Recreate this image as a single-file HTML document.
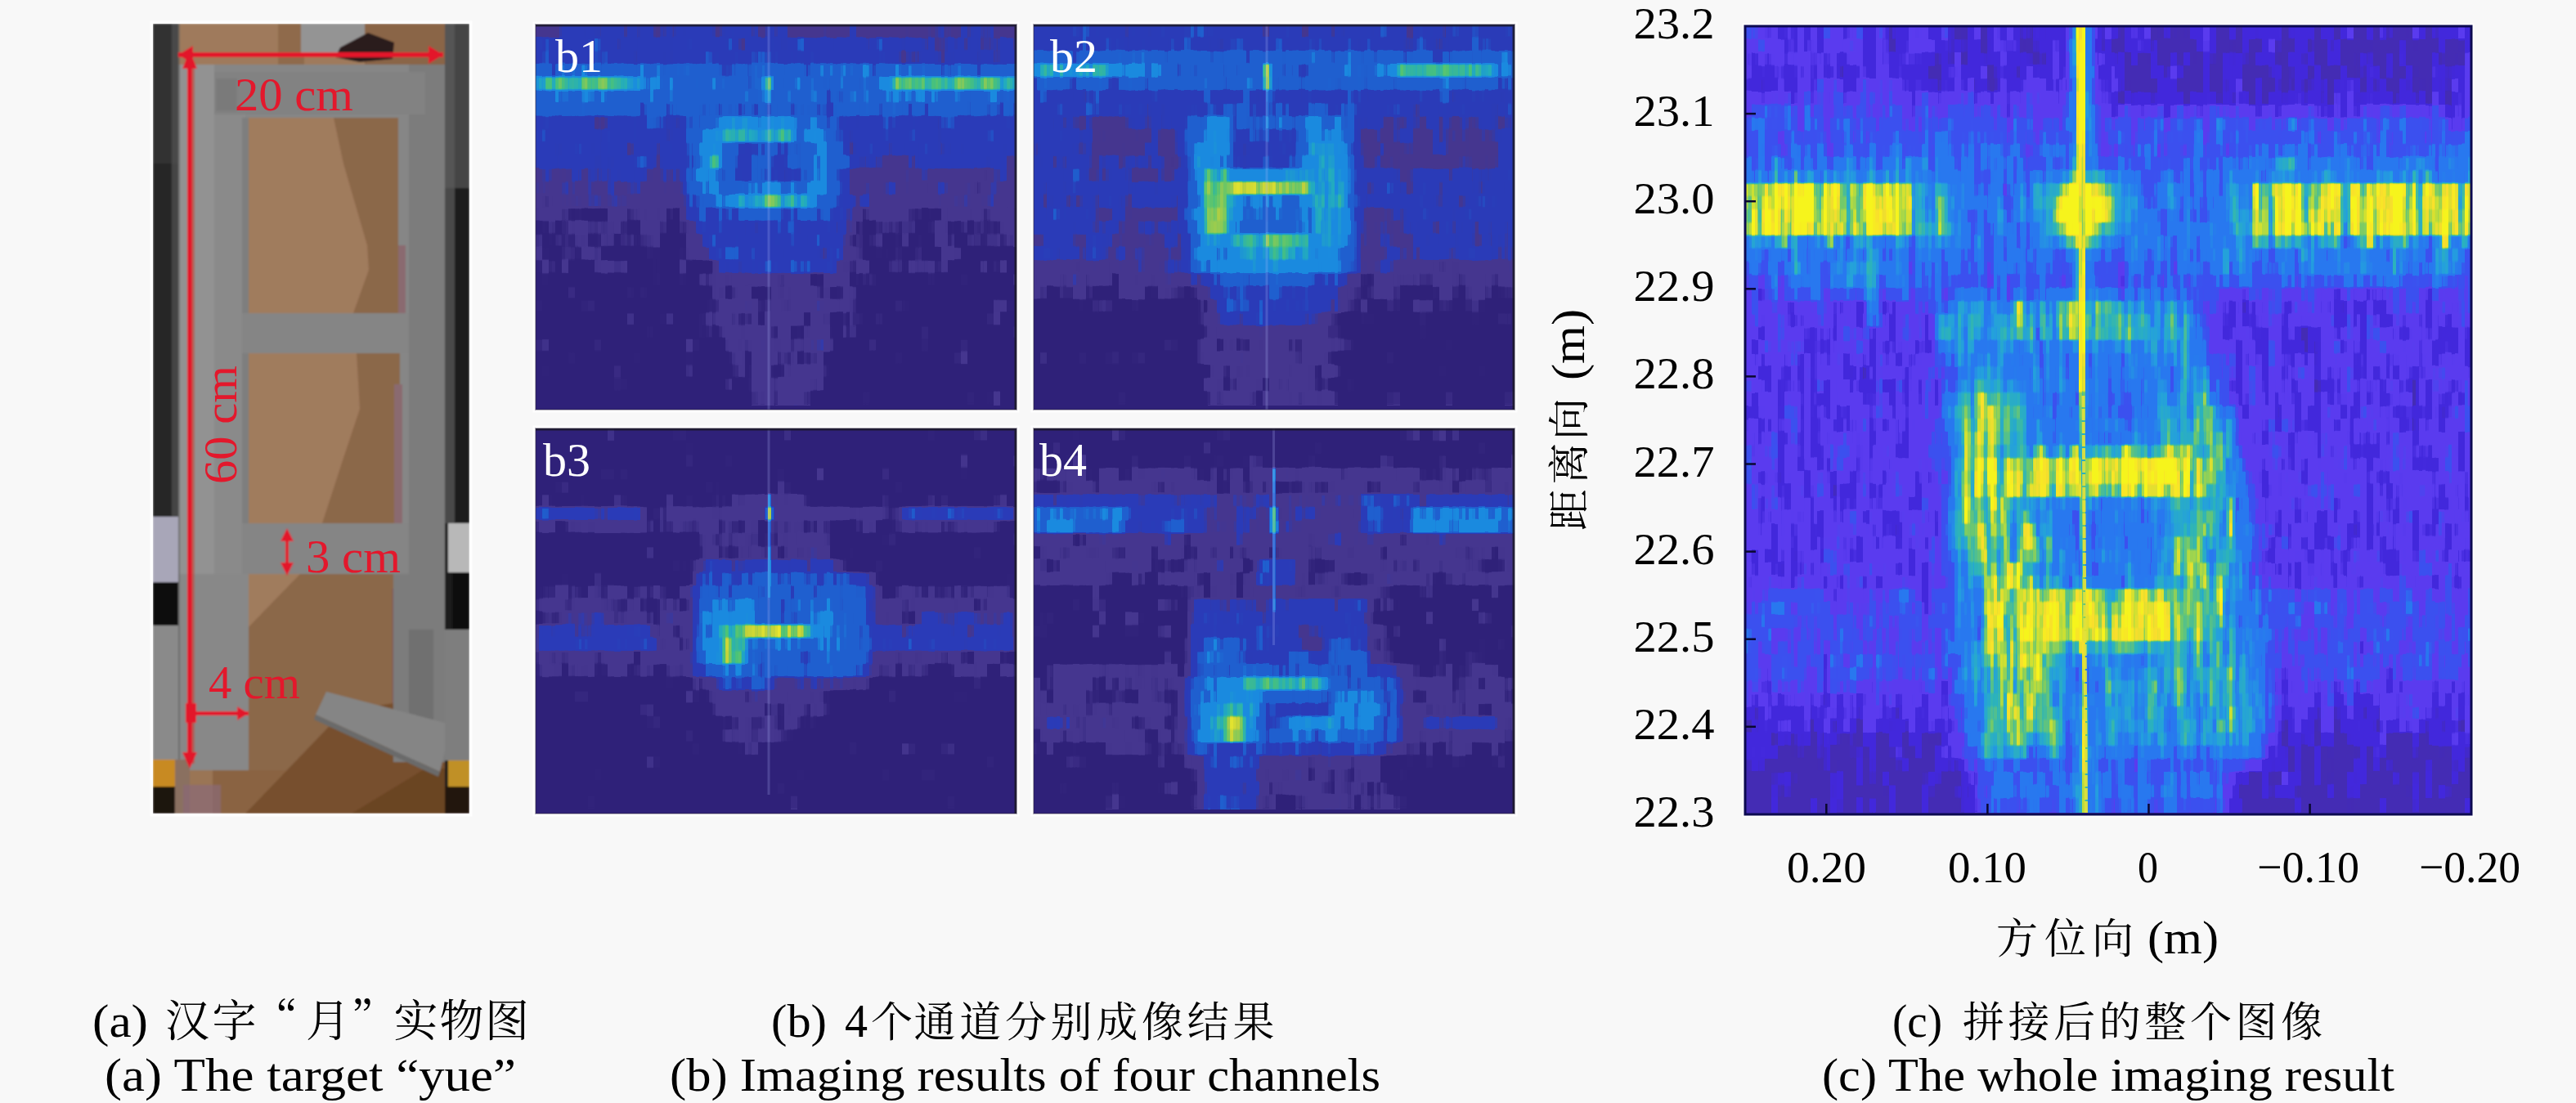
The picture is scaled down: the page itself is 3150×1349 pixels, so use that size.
<!DOCTYPE html><html lang="zh"><head><meta charset="utf-8"><title>Figure</title>
<style>html,body{margin:0;padding:0;background:#f8f8f8}body{width:3150px;height:1349px}svg{display:block}text{font-family:'Liberation Serif','Noto Serif CJK SC',serif}</style></head><body>
<svg width="3150" height="1349" viewBox="0 0 3150 1349">
<defs>
<filter id="bl2" x="-30%" y="-30%" width="160%" height="160%" color-interpolation-filters="sRGB"><feGaussianBlur stdDeviation="2"/></filter>
<filter id="bl3" x="-30%" y="-30%" width="160%" height="160%" color-interpolation-filters="sRGB"><feGaussianBlur stdDeviation="3"/></filter>
<filter id="bl4" x="-30%" y="-30%" width="160%" height="160%" color-interpolation-filters="sRGB"><feGaussianBlur stdDeviation="4"/></filter>
<filter id="bl5" x="-30%" y="-30%" width="160%" height="160%" color-interpolation-filters="sRGB"><feGaussianBlur stdDeviation="5"/></filter>
<filter id="bl6" x="-30%" y="-30%" width="160%" height="160%" color-interpolation-filters="sRGB"><feGaussianBlur stdDeviation="6"/></filter>
<filter id="bl8" x="-30%" y="-30%" width="160%" height="160%" color-interpolation-filters="sRGB"><feGaussianBlur stdDeviation="8"/></filter>
<filter id="bl10" x="-30%" y="-30%" width="160%" height="160%" color-interpolation-filters="sRGB"><feGaussianBlur stdDeviation="10"/></filter>
<filter id="bl12" x="-30%" y="-30%" width="160%" height="160%" color-interpolation-filters="sRGB"><feGaussianBlur stdDeviation="12"/></filter>
<filter id="bl16" x="-30%" y="-30%" width="160%" height="160%" color-interpolation-filters="sRGB"><feGaussianBlur stdDeviation="16"/></filter>
<filter id="fb1" filterUnits="userSpaceOnUse" x="0" y="0" width="588" height="471" color-interpolation-filters="sRGB"><feTurbulence type="fractalNoise" baseFrequency="0.045 0.045" numOctaves="2" seed="3" result="t1"/><feColorMatrix in="t1" type="matrix" values="1 0 0 0 0 1 0 0 0 0 1 0 0 0 0 0 0 0 0 1" result="n1"/><feFlood x="3" y="7" width="2" height="2" flood-color="#000" result="da"/><feComposite in="da" in2="da" operator="over" x="0" y="0" width="8" height="16" result="ca"/><feTile in="ca" result="ga"/><feComposite in="n1" in2="ga" operator="in" result="sa"/><feMorphology in="sa" operator="dilate" radius="3 7" result="pn"/><feTurbulence type="fractalNoise" baseFrequency="0.11 0.02" numOctaves="2" seed="14" result="t2"/><feColorMatrix in="t2" type="matrix" values="1 0 0 0 0 1 0 0 0 0 1 0 0 0 0 0 0 0 0 1" result="n2"/><feComposite in="SourceGraphic" in2="n2" operator="arithmetic" k1="0.6" k2="0.7" k3="0" k4="0" result="m"/><feComposite in="m" in2="pn" operator="arithmetic" k1="-0.3" k2="1.15" k3="0.3" k4="-0.15" result="i"/><feFlood x="1" y="7" width="2" height="2" flood-color="#000" result="db"/><feComposite in="db" in2="db" operator="over" x="0" y="0" width="4" height="16" result="cb"/><feTile in="cb" result="gb"/><feComposite in="i" in2="gb" operator="in" result="sb"/><feMorphology in="sb" operator="dilate" radius="1 7" result="ip"/><feGaussianBlur in="ip" stdDeviation="0.5 1.2" result="iv"/><feComponentTransfer in="iv"><feFuncR type="table" tableValues="0.188 0.188 0.188 0.188 0.188 0.188 0.188 0.195 0.229 0.264 0.271 0.271 0.271 0.271 0.271 0.271 0.271 0.271 0.271 0.262 0.218 0.174 0.165 0.165 0.165 0.165 0.165 0.165 0.165 0.165 0.165 0.161 0.143 0.125 0.122 0.122 0.122 0.122 0.122 0.122 0.122 0.122 0.122 0.120 0.112 0.104 0.102 0.102 0.102 0.102 0.102 0.102 0.102 0.102 0.102 0.102 0.102 0.106 0.111 0.115 0.120 0.124 0.128 0.133 0.137 0.153 0.169 0.184 0.200 0.216 0.231 0.247 0.263 0.278 0.294 0.332 0.369 0.407 0.444 0.482 0.520 0.557 0.595 0.632 0.670 0.708 0.745 0.761 0.778 0.794 0.810 0.826 0.843 0.859 0.875 0.891 0.908 0.924 0.940 0.956 0.973"/><feFuncG type="table" tableValues="0.133 0.133 0.133 0.133 0.133 0.133 0.133 0.140 0.173 0.205 0.212 0.212 0.212 0.212 0.212 0.212 0.212 0.212 0.212 0.214 0.224 0.233 0.235 0.235 0.235 0.235 0.235 0.235 0.235 0.235 0.235 0.247 0.304 0.361 0.373 0.373 0.373 0.373 0.373 0.373 0.373 0.373 0.373 0.387 0.459 0.531 0.545 0.545 0.545 0.545 0.545 0.545 0.545 0.545 0.545 0.545 0.545 0.561 0.577 0.594 0.610 0.626 0.642 0.658 0.675 0.684 0.693 0.702 0.711 0.720 0.729 0.738 0.747 0.756 0.765 0.769 0.773 0.777 0.782 0.786 0.790 0.794 0.799 0.803 0.807 0.811 0.816 0.824 0.832 0.841 0.849 0.858 0.866 0.875 0.883 0.891 0.900 0.908 0.917 0.925 0.933"/><feFuncB type="table" tableValues="0.478 0.478 0.478 0.478 0.478 0.478 0.478 0.485 0.520 0.554 0.561 0.561 0.561 0.561 0.561 0.561 0.561 0.561 0.561 0.574 0.641 0.708 0.722 0.722 0.722 0.722 0.722 0.722 0.722 0.722 0.722 0.729 0.767 0.804 0.812 0.812 0.812 0.812 0.812 0.812 0.812 0.812 0.812 0.817 0.845 0.873 0.878 0.878 0.878 0.878 0.878 0.878 0.878 0.878 0.878 0.878 0.878 0.862 0.845 0.828 0.812 0.795 0.778 0.762 0.745 0.718 0.690 0.663 0.635 0.608 0.580 0.553 0.525 0.498 0.471 0.451 0.431 0.412 0.392 0.373 0.353 0.333 0.314 0.294 0.275 0.255 0.235 0.230 0.224 0.218 0.213 0.207 0.202 0.196 0.190 0.185 0.179 0.174 0.168 0.162 0.157"/><feFuncA type="linear" slope="0" intercept="1"/></feComponentTransfer></filter>
<filter id="fb2" filterUnits="userSpaceOnUse" x="0" y="0" width="588" height="471" color-interpolation-filters="sRGB"><feTurbulence type="fractalNoise" baseFrequency="0.045 0.045" numOctaves="2" seed="17" result="t1"/><feColorMatrix in="t1" type="matrix" values="1 0 0 0 0 1 0 0 0 0 1 0 0 0 0 0 0 0 0 1" result="n1"/><feFlood x="3" y="7" width="2" height="2" flood-color="#000" result="da"/><feComposite in="da" in2="da" operator="over" x="0" y="0" width="8" height="16" result="ca"/><feTile in="ca" result="ga"/><feComposite in="n1" in2="ga" operator="in" result="sa"/><feMorphology in="sa" operator="dilate" radius="3 7" result="pn"/><feTurbulence type="fractalNoise" baseFrequency="0.11 0.02" numOctaves="2" seed="28" result="t2"/><feColorMatrix in="t2" type="matrix" values="1 0 0 0 0 1 0 0 0 0 1 0 0 0 0 0 0 0 0 1" result="n2"/><feComposite in="SourceGraphic" in2="n2" operator="arithmetic" k1="0.6" k2="0.7" k3="0" k4="0" result="m"/><feComposite in="m" in2="pn" operator="arithmetic" k1="-0.3" k2="1.15" k3="0.3" k4="-0.15" result="i"/><feFlood x="1" y="7" width="2" height="2" flood-color="#000" result="db"/><feComposite in="db" in2="db" operator="over" x="0" y="0" width="4" height="16" result="cb"/><feTile in="cb" result="gb"/><feComposite in="i" in2="gb" operator="in" result="sb"/><feMorphology in="sb" operator="dilate" radius="1 7" result="ip"/><feGaussianBlur in="ip" stdDeviation="0.5 1.2" result="iv"/><feComponentTransfer in="iv"><feFuncR type="table" tableValues="0.188 0.188 0.188 0.188 0.188 0.188 0.188 0.195 0.229 0.264 0.271 0.271 0.271 0.271 0.271 0.271 0.271 0.271 0.271 0.262 0.218 0.174 0.165 0.165 0.165 0.165 0.165 0.165 0.165 0.165 0.165 0.161 0.143 0.125 0.122 0.122 0.122 0.122 0.122 0.122 0.122 0.122 0.122 0.120 0.112 0.104 0.102 0.102 0.102 0.102 0.102 0.102 0.102 0.102 0.102 0.102 0.102 0.106 0.111 0.115 0.120 0.124 0.128 0.133 0.137 0.153 0.169 0.184 0.200 0.216 0.231 0.247 0.263 0.278 0.294 0.332 0.369 0.407 0.444 0.482 0.520 0.557 0.595 0.632 0.670 0.708 0.745 0.761 0.778 0.794 0.810 0.826 0.843 0.859 0.875 0.891 0.908 0.924 0.940 0.956 0.973"/><feFuncG type="table" tableValues="0.133 0.133 0.133 0.133 0.133 0.133 0.133 0.140 0.173 0.205 0.212 0.212 0.212 0.212 0.212 0.212 0.212 0.212 0.212 0.214 0.224 0.233 0.235 0.235 0.235 0.235 0.235 0.235 0.235 0.235 0.235 0.247 0.304 0.361 0.373 0.373 0.373 0.373 0.373 0.373 0.373 0.373 0.373 0.387 0.459 0.531 0.545 0.545 0.545 0.545 0.545 0.545 0.545 0.545 0.545 0.545 0.545 0.561 0.577 0.594 0.610 0.626 0.642 0.658 0.675 0.684 0.693 0.702 0.711 0.720 0.729 0.738 0.747 0.756 0.765 0.769 0.773 0.777 0.782 0.786 0.790 0.794 0.799 0.803 0.807 0.811 0.816 0.824 0.832 0.841 0.849 0.858 0.866 0.875 0.883 0.891 0.900 0.908 0.917 0.925 0.933"/><feFuncB type="table" tableValues="0.478 0.478 0.478 0.478 0.478 0.478 0.478 0.485 0.520 0.554 0.561 0.561 0.561 0.561 0.561 0.561 0.561 0.561 0.561 0.574 0.641 0.708 0.722 0.722 0.722 0.722 0.722 0.722 0.722 0.722 0.722 0.729 0.767 0.804 0.812 0.812 0.812 0.812 0.812 0.812 0.812 0.812 0.812 0.817 0.845 0.873 0.878 0.878 0.878 0.878 0.878 0.878 0.878 0.878 0.878 0.878 0.878 0.862 0.845 0.828 0.812 0.795 0.778 0.762 0.745 0.718 0.690 0.663 0.635 0.608 0.580 0.553 0.525 0.498 0.471 0.451 0.431 0.412 0.392 0.373 0.353 0.333 0.314 0.294 0.275 0.255 0.235 0.230 0.224 0.218 0.213 0.207 0.202 0.196 0.190 0.185 0.179 0.174 0.168 0.162 0.157"/><feFuncA type="linear" slope="0" intercept="1"/></feComponentTransfer></filter>
<filter id="fb3" filterUnits="userSpaceOnUse" x="0" y="0" width="588" height="471" color-interpolation-filters="sRGB"><feTurbulence type="fractalNoise" baseFrequency="0.045 0.045" numOctaves="2" seed="29" result="t1"/><feColorMatrix in="t1" type="matrix" values="1 0 0 0 0 1 0 0 0 0 1 0 0 0 0 0 0 0 0 1" result="n1"/><feFlood x="3" y="7" width="2" height="2" flood-color="#000" result="da"/><feComposite in="da" in2="da" operator="over" x="0" y="0" width="8" height="16" result="ca"/><feTile in="ca" result="ga"/><feComposite in="n1" in2="ga" operator="in" result="sa"/><feMorphology in="sa" operator="dilate" radius="3 7" result="pn"/><feTurbulence type="fractalNoise" baseFrequency="0.11 0.02" numOctaves="2" seed="40" result="t2"/><feColorMatrix in="t2" type="matrix" values="1 0 0 0 0 1 0 0 0 0 1 0 0 0 0 0 0 0 0 1" result="n2"/><feComposite in="SourceGraphic" in2="n2" operator="arithmetic" k1="0.6" k2="0.7" k3="0" k4="0" result="m"/><feComposite in="m" in2="pn" operator="arithmetic" k1="-0.3" k2="1.15" k3="0.3" k4="-0.15" result="i"/><feFlood x="1" y="7" width="2" height="2" flood-color="#000" result="db"/><feComposite in="db" in2="db" operator="over" x="0" y="0" width="4" height="16" result="cb"/><feTile in="cb" result="gb"/><feComposite in="i" in2="gb" operator="in" result="sb"/><feMorphology in="sb" operator="dilate" radius="1 7" result="ip"/><feGaussianBlur in="ip" stdDeviation="0.5 1.2" result="iv"/><feComponentTransfer in="iv"><feFuncR type="table" tableValues="0.188 0.188 0.188 0.188 0.188 0.188 0.188 0.195 0.229 0.264 0.271 0.271 0.271 0.271 0.271 0.271 0.271 0.271 0.271 0.262 0.218 0.174 0.165 0.165 0.165 0.165 0.165 0.165 0.165 0.165 0.165 0.161 0.143 0.125 0.122 0.122 0.122 0.122 0.122 0.122 0.122 0.122 0.122 0.120 0.112 0.104 0.102 0.102 0.102 0.102 0.102 0.102 0.102 0.102 0.102 0.102 0.102 0.106 0.111 0.115 0.120 0.124 0.128 0.133 0.137 0.153 0.169 0.184 0.200 0.216 0.231 0.247 0.263 0.278 0.294 0.332 0.369 0.407 0.444 0.482 0.520 0.557 0.595 0.632 0.670 0.708 0.745 0.761 0.778 0.794 0.810 0.826 0.843 0.859 0.875 0.891 0.908 0.924 0.940 0.956 0.973"/><feFuncG type="table" tableValues="0.133 0.133 0.133 0.133 0.133 0.133 0.133 0.140 0.173 0.205 0.212 0.212 0.212 0.212 0.212 0.212 0.212 0.212 0.212 0.214 0.224 0.233 0.235 0.235 0.235 0.235 0.235 0.235 0.235 0.235 0.235 0.247 0.304 0.361 0.373 0.373 0.373 0.373 0.373 0.373 0.373 0.373 0.373 0.387 0.459 0.531 0.545 0.545 0.545 0.545 0.545 0.545 0.545 0.545 0.545 0.545 0.545 0.561 0.577 0.594 0.610 0.626 0.642 0.658 0.675 0.684 0.693 0.702 0.711 0.720 0.729 0.738 0.747 0.756 0.765 0.769 0.773 0.777 0.782 0.786 0.790 0.794 0.799 0.803 0.807 0.811 0.816 0.824 0.832 0.841 0.849 0.858 0.866 0.875 0.883 0.891 0.900 0.908 0.917 0.925 0.933"/><feFuncB type="table" tableValues="0.478 0.478 0.478 0.478 0.478 0.478 0.478 0.485 0.520 0.554 0.561 0.561 0.561 0.561 0.561 0.561 0.561 0.561 0.561 0.574 0.641 0.708 0.722 0.722 0.722 0.722 0.722 0.722 0.722 0.722 0.722 0.729 0.767 0.804 0.812 0.812 0.812 0.812 0.812 0.812 0.812 0.812 0.812 0.817 0.845 0.873 0.878 0.878 0.878 0.878 0.878 0.878 0.878 0.878 0.878 0.878 0.878 0.862 0.845 0.828 0.812 0.795 0.778 0.762 0.745 0.718 0.690 0.663 0.635 0.608 0.580 0.553 0.525 0.498 0.471 0.451 0.431 0.412 0.392 0.373 0.353 0.333 0.314 0.294 0.275 0.255 0.235 0.230 0.224 0.218 0.213 0.207 0.202 0.196 0.190 0.185 0.179 0.174 0.168 0.162 0.157"/><feFuncA type="linear" slope="0" intercept="1"/></feComponentTransfer></filter>
<filter id="fb4" filterUnits="userSpaceOnUse" x="0" y="0" width="588" height="471" color-interpolation-filters="sRGB"><feTurbulence type="fractalNoise" baseFrequency="0.045 0.045" numOctaves="2" seed="41" result="t1"/><feColorMatrix in="t1" type="matrix" values="1 0 0 0 0 1 0 0 0 0 1 0 0 0 0 0 0 0 0 1" result="n1"/><feFlood x="3" y="7" width="2" height="2" flood-color="#000" result="da"/><feComposite in="da" in2="da" operator="over" x="0" y="0" width="8" height="16" result="ca"/><feTile in="ca" result="ga"/><feComposite in="n1" in2="ga" operator="in" result="sa"/><feMorphology in="sa" operator="dilate" radius="3 7" result="pn"/><feTurbulence type="fractalNoise" baseFrequency="0.11 0.02" numOctaves="2" seed="52" result="t2"/><feColorMatrix in="t2" type="matrix" values="1 0 0 0 0 1 0 0 0 0 1 0 0 0 0 0 0 0 0 1" result="n2"/><feComposite in="SourceGraphic" in2="n2" operator="arithmetic" k1="0.6" k2="0.7" k3="0" k4="0" result="m"/><feComposite in="m" in2="pn" operator="arithmetic" k1="-0.3" k2="1.15" k3="0.3" k4="-0.15" result="i"/><feFlood x="1" y="7" width="2" height="2" flood-color="#000" result="db"/><feComposite in="db" in2="db" operator="over" x="0" y="0" width="4" height="16" result="cb"/><feTile in="cb" result="gb"/><feComposite in="i" in2="gb" operator="in" result="sb"/><feMorphology in="sb" operator="dilate" radius="1 7" result="ip"/><feGaussianBlur in="ip" stdDeviation="0.5 1.2" result="iv"/><feComponentTransfer in="iv"><feFuncR type="table" tableValues="0.188 0.188 0.188 0.188 0.188 0.188 0.188 0.195 0.229 0.264 0.271 0.271 0.271 0.271 0.271 0.271 0.271 0.271 0.271 0.262 0.218 0.174 0.165 0.165 0.165 0.165 0.165 0.165 0.165 0.165 0.165 0.161 0.143 0.125 0.122 0.122 0.122 0.122 0.122 0.122 0.122 0.122 0.122 0.120 0.112 0.104 0.102 0.102 0.102 0.102 0.102 0.102 0.102 0.102 0.102 0.102 0.102 0.106 0.111 0.115 0.120 0.124 0.128 0.133 0.137 0.153 0.169 0.184 0.200 0.216 0.231 0.247 0.263 0.278 0.294 0.332 0.369 0.407 0.444 0.482 0.520 0.557 0.595 0.632 0.670 0.708 0.745 0.761 0.778 0.794 0.810 0.826 0.843 0.859 0.875 0.891 0.908 0.924 0.940 0.956 0.973"/><feFuncG type="table" tableValues="0.133 0.133 0.133 0.133 0.133 0.133 0.133 0.140 0.173 0.205 0.212 0.212 0.212 0.212 0.212 0.212 0.212 0.212 0.212 0.214 0.224 0.233 0.235 0.235 0.235 0.235 0.235 0.235 0.235 0.235 0.235 0.247 0.304 0.361 0.373 0.373 0.373 0.373 0.373 0.373 0.373 0.373 0.373 0.387 0.459 0.531 0.545 0.545 0.545 0.545 0.545 0.545 0.545 0.545 0.545 0.545 0.545 0.561 0.577 0.594 0.610 0.626 0.642 0.658 0.675 0.684 0.693 0.702 0.711 0.720 0.729 0.738 0.747 0.756 0.765 0.769 0.773 0.777 0.782 0.786 0.790 0.794 0.799 0.803 0.807 0.811 0.816 0.824 0.832 0.841 0.849 0.858 0.866 0.875 0.883 0.891 0.900 0.908 0.917 0.925 0.933"/><feFuncB type="table" tableValues="0.478 0.478 0.478 0.478 0.478 0.478 0.478 0.485 0.520 0.554 0.561 0.561 0.561 0.561 0.561 0.561 0.561 0.561 0.561 0.574 0.641 0.708 0.722 0.722 0.722 0.722 0.722 0.722 0.722 0.722 0.722 0.729 0.767 0.804 0.812 0.812 0.812 0.812 0.812 0.812 0.812 0.812 0.812 0.817 0.845 0.873 0.878 0.878 0.878 0.878 0.878 0.878 0.878 0.878 0.878 0.878 0.878 0.862 0.845 0.828 0.812 0.795 0.778 0.762 0.745 0.718 0.690 0.663 0.635 0.608 0.580 0.553 0.525 0.498 0.471 0.451 0.431 0.412 0.392 0.373 0.353 0.333 0.314 0.294 0.275 0.255 0.235 0.230 0.224 0.218 0.213 0.207 0.202 0.196 0.190 0.185 0.179 0.174 0.168 0.162 0.157"/><feFuncA type="linear" slope="0" intercept="1"/></feComponentTransfer></filter>
<filter id="fc" filterUnits="userSpaceOnUse" x="0" y="0" width="888" height="964" color-interpolation-filters="sRGB"><feTurbulence type="fractalNoise" baseFrequency="0.075 0.022" numOctaves="2" seed="5" result="t1"/><feColorMatrix in="t1" type="matrix" values="1 0 0 0 0 1 0 0 0 0 1 0 0 0 0 0 0 0 0 1" result="n1"/><feFlood x="3" y="7" width="2" height="2" flood-color="#000" result="da"/><feComposite in="da" in2="da" operator="over" x="0" y="0" width="8" height="16" result="ca"/><feTile in="ca" result="ga"/><feComposite in="n1" in2="ga" operator="in" result="sa"/><feMorphology in="sa" operator="dilate" radius="3 7" result="pn"/><feTurbulence type="fractalNoise" baseFrequency="0.12 0.012" numOctaves="2" seed="16" result="t2"/><feColorMatrix in="t2" type="matrix" values="1 0 0 0 0 1 0 0 0 0 1 0 0 0 0 0 0 0 0 1" result="n2"/><feComposite in="SourceGraphic" in2="n2" operator="arithmetic" k1="0.7" k2="0.65" k3="0" k4="0" result="m"/><feComposite in="m" in2="pn" operator="arithmetic" k1="-0.62" k2="1.31" k3="0.62" k4="-0.31" result="i"/><feFlood x="1" y="7" width="2" height="2" flood-color="#000" result="db"/><feComposite in="db" in2="db" operator="over" x="0" y="0" width="4" height="16" result="cb"/><feTile in="cb" result="gb"/><feComposite in="i" in2="gb" operator="in" result="sb"/><feMorphology in="sb" operator="dilate" radius="1 7" result="ip"/><feGaussianBlur in="ip" stdDeviation="0.5 1.2" result="iv"/><feComponentTransfer in="iv"><feFuncR type="table" tableValues="0.267 0.267 0.267 0.267 0.267 0.267 0.267 0.267 0.267 0.266 0.263 0.259 0.259 0.259 0.259 0.259 0.259 0.259 0.259 0.259 0.259 0.267 0.306 0.345 0.353 0.353 0.353 0.353 0.353 0.353 0.353 0.353 0.353 0.343 0.294 0.245 0.235 0.235 0.235 0.235 0.235 0.235 0.235 0.235 0.235 0.229 0.196 0.163 0.157 0.157 0.157 0.157 0.157 0.157 0.157 0.157 0.157 0.155 0.153 0.151 0.149 0.147 0.145 0.143 0.141 0.146 0.150 0.154 0.159 0.163 0.168 0.172 0.176 0.208 0.240 0.272 0.304 0.336 0.368 0.400 0.431 0.478 0.525 0.571 0.618 0.664 0.711 0.757 0.804 0.833 0.863 0.892 0.922 0.951 0.980 0.978 0.975 0.973 0.970 0.967 0.965"/><feFuncG type="table" tableValues="0.173 0.173 0.173 0.173 0.173 0.173 0.173 0.173 0.173 0.171 0.165 0.158 0.157 0.157 0.157 0.157 0.157 0.157 0.157 0.157 0.157 0.163 0.196 0.229 0.235 0.235 0.235 0.235 0.235 0.235 0.235 0.235 0.235 0.242 0.275 0.307 0.314 0.314 0.314 0.314 0.314 0.314 0.314 0.314 0.314 0.327 0.392 0.458 0.471 0.471 0.471 0.471 0.471 0.471 0.471 0.471 0.471 0.490 0.510 0.529 0.549 0.569 0.588 0.608 0.627 0.637 0.647 0.657 0.667 0.676 0.686 0.696 0.706 0.716 0.725 0.735 0.745 0.755 0.765 0.775 0.784 0.797 0.809 0.821 0.833 0.846 0.858 0.870 0.882 0.880 0.878 0.876 0.875 0.873 0.871 0.885 0.899 0.914 0.928 0.942 0.957"/><feFuncB type="table" tableValues="0.706 0.706 0.706 0.706 0.706 0.706 0.706 0.706 0.706 0.719 0.784 0.850 0.863 0.863 0.863 0.863 0.863 0.863 0.863 0.863 0.863 0.869 0.902 0.935 0.941 0.941 0.941 0.941 0.941 0.941 0.941 0.941 0.941 0.941 0.941 0.941 0.941 0.941 0.941 0.941 0.941 0.941 0.941 0.941 0.941 0.941 0.941 0.941 0.941 0.941 0.941 0.941 0.941 0.941 0.941 0.941 0.941 0.932 0.924 0.915 0.906 0.897 0.888 0.879 0.871 0.852 0.834 0.816 0.798 0.780 0.762 0.744 0.725 0.689 0.652 0.615 0.578 0.542 0.505 0.468 0.431 0.402 0.373 0.343 0.314 0.284 0.255 0.225 0.196 0.193 0.190 0.186 0.183 0.180 0.176 0.165 0.154 0.143 0.132 0.121 0.110"/><feFuncA type="linear" slope="0" intercept="1"/></feComponentTransfer></filter>
<filter id="soft" filterUnits="userSpaceOnUse" x="150" y="0" width="460" height="1030"><feGaussianBlur stdDeviation="1.3"/></filter>
<clipPath id="cpB"><rect x="0" y="0" width="588" height="471"/></clipPath>
<clipPath id="cpC"><rect x="0" y="0" width="888" height="964"/></clipPath>
<clipPath id="cpA"><rect x="187" y="29" width="387" height="966"/></clipPath>
</defs>
<rect width="3150" height="1349" fill="#f8f8f8"/>
<rect x="185.5" y="27.5" width="390" height="969" fill="none" stroke="#ffffff" stroke-width="4" opacity="0.85"/>
<rect x="653.5" y="28.5" width="591" height="474" fill="none" stroke="#ffffff" stroke-width="4" opacity="0.85"/>
<rect x="1262.5" y="28.5" width="591" height="474" fill="none" stroke="#ffffff" stroke-width="4" opacity="0.85"/>
<rect x="653.5" y="522.5" width="591" height="474" fill="none" stroke="#ffffff" stroke-width="4" opacity="0.85"/>
<rect x="1262.5" y="522.5" width="591" height="474" fill="none" stroke="#ffffff" stroke-width="4" opacity="0.85"/>
<rect x="2132.5" y="30.5" width="891" height="967" fill="none" stroke="#ffffff" stroke-width="4" opacity="0.85"/>
<g clip-path="url(#cpA)"><g filter="url(#soft)">
<rect x="187" y="29" width="387" height="966" fill="#a07b5d"/>
<rect x="218" y="29" width="326" height="50" fill="#9f7a5c"/>
<rect x="340" y="29" width="32" height="50" fill="#8f6a4c"/>
<rect x="446" y="29" width="98" height="50" fill="#8a6547"/>
<rect x="368" y="29" width="78" height="41" fill="#949494"/>
<polygon points="416,58 450,40 482,52 480,72 440,76 410,70" fill="#2a1a1c"/>
<rect x="218" y="79" width="326" height="863" fill="#868686"/>
<rect x="218" y="79" width="44" height="863" fill="#929292"/>
<rect x="262" y="110" width="38" height="830" fill="#8a8a8a"/>
<rect x="500" y="79" width="44" height="863" fill="#7c7c7c"/>
<rect x="262" y="88" width="258" height="52" fill="#828282"/>
<rect x="264" y="96" width="26" height="40" fill="#7a7a7a"/>
<rect x="296" y="383" width="204" height="49" fill="#858585"/>
<rect x="296" y="640" width="204" height="62" fill="#858585"/>
<rect x="304" y="144" width="183" height="239" fill="#a07b5d"/>
<polygon points="408,144 487,144 487,383 432,383 451,330 449,300 420,200" fill="#8b6849"/>
<rect x="304" y="432" width="185" height="208" fill="#a07b5d"/>
<polygon points="436,432 489,432 489,640 394,640 420,560 440,500" fill="#8b6849"/>
<rect x="304" y="702" width="177" height="293" fill="#8b6849"/>
<polygon points="304,702 367,702 330,740 304,767" fill="#a07b5d"/>
<rect x="487" y="300" width="9" height="83" fill="#8a6a70"/>
<rect x="482" y="470" width="10" height="170" fill="#8a6a70"/>
<rect x="480" y="720" width="12" height="140" fill="#7a5560"/>
<rect x="296" y="144" width="8" height="239" fill="#7e7e7e"/>
<rect x="296" y="432" width="8" height="208" fill="#7e7e7e"/>
<rect x="187" y="942" width="387" height="53" fill="#8a6442"/>
<polygon points="300,995 420,870 481,860 574,930 574,995" fill="#77502f"/>
<polygon points="430,995 520,940 574,940 574,995" fill="#6a4424"/>
<rect x="187" y="942" width="73" height="53" fill="#9a7555"/>
<rect x="218" y="702" width="86" height="240" fill="#888888"/>
<rect x="481" y="702" width="63" height="230" fill="#7b7b7b"/>
<rect x="500" y="770" width="30" height="160" fill="#707070"/>
<polygon points="399,846 552,886 538,944 386,874" fill="#858585"/>
<polygon points="386,874 538,944 536,950 384,880" fill="#6a6a6a"/>
<rect x="187" y="29" width="31" height="966" fill="#262626"/>
<rect x="187" y="29" width="31" height="171" fill="#333333"/>
<rect x="210" y="29" width="10" height="966" fill="#5a5a5a" opacity="0.6"/>
<rect x="187" y="632" width="31" height="80" fill="#a8a6b8"/>
<rect x="187" y="712" width="31" height="53" fill="#0c0c0c"/>
<rect x="187" y="765" width="31" height="164" fill="#8a8a8a"/>
<rect x="187" y="929" width="27" height="33" fill="#c88a20"/>
<rect x="187" y="962" width="31" height="33" fill="#1a1208"/>
<rect x="214" y="929" width="18" height="66" fill="#8a7060"/>
<rect x="224" y="960" width="46" height="35" fill="#8a6a78" opacity="0.7"/>
<rect x="544" y="29" width="30" height="966" fill="#1c1c1c"/>
<rect x="544" y="29" width="30" height="201" fill="#444444"/>
<rect x="544" y="29" width="12" height="611" fill="#5c5c5c" opacity="0.7"/>
<rect x="548" y="640" width="26" height="60" fill="#b8b8b8"/>
<rect x="553" y="700" width="21" height="70" fill="#080808"/>
<rect x="544" y="770" width="30" height="160" fill="#7e7e7e"/>
<rect x="548" y="930" width="26" height="32" fill="#c09028"/>
<rect x="544" y="962" width="30" height="33" fill="#20140a"/>
<rect x="218" y="64" width="324" height="6" fill="#e3182c"/>
<rect x="229" y="64" width="6" height="870" fill="#e3182c"/>
<rect x="235" y="80" width="3" height="854" fill="#c04838" opacity="0.6"/>
<polygon points="218,67 236,56 236,78" fill="#e3182c"/>
<polygon points="542,67 524,56 524,78" fill="#e3182c"/>
<polygon points="232,940 223,920 241,920" fill="#e3182c"/>
<polygon points="232,62 223,84 241,84" fill="#e3182c"/>
<rect x="228" y="870" width="76" height="5" fill="#e3182c"/>
<polygon points="304,872.5 290,864 290,881" fill="#e3182c"/>
<rect x="227" y="860" width="13" height="24" fill="#e3182c"/>
<rect x="349" y="652" width="4" height="46" fill="#e3182c"/>
<polygon points="351,646 343,662 359,662" fill="#e3182c"/>
<polygon points="351,704 343,688 359,688" fill="#e3182c"/>
</g></g>
<text x="287" y="135" style="font-family:'Liberation Serif',serif;font-size:58px;fill:#e3182c" textLength="145" lengthAdjust="spacingAndGlyphs">20 cm</text>
<text transform="translate(289,592) rotate(-90)" style="font-family:'Liberation Serif',serif;font-size:58px;fill:#e3182c" textLength="145" lengthAdjust="spacingAndGlyphs">60 cm</text>
<text x="374" y="700" style="font-family:'Liberation Serif',serif;font-size:58px;fill:#e3182c" textLength="116" lengthAdjust="spacingAndGlyphs">3 cm</text>
<text x="255" y="854" style="font-family:'Liberation Serif',serif;font-size:58px;fill:#e3182c" textLength="112" lengthAdjust="spacingAndGlyphs">4 cm</text>
<g transform="translate(655,30)">
<g filter="url(#fb1)"><g clip-path="url(#cpB)">
<linearGradient id="g1" x1="0" y1="0" x2="0" y2="1"><stop offset="0" stop-color="#333333"/><stop offset="0.0362647" stop-color="#404040"/><stop offset="0.106981" stop-color="#454545"/><stop offset="0.113327" stop-color="#616161"/><stop offset="0.217588" stop-color="#616161"/><stop offset="0.231188" stop-color="#454545"/><stop offset="0.30825" stop-color="#424242"/><stop offset="0.389846" stop-color="#333333"/><stop offset="0.453309" stop-color="#262626"/><stop offset="0.485041" stop-color="#1a1a1a"/><stop offset="0.543971" stop-color="#121212"/><stop offset="0.6165" stop-color="#0a0a0a"/><stop offset="0.725295" stop-color="#030303"/><stop offset="1" stop-color="#000000"/></linearGradient>
<rect x="0" y="0" width="588" height="471" fill="url(#g1)"/>
<rect x="307.4" y="0" width="280.5" height="17.9" fill="#2b2b2b"/>
<rect x="0" y="0" width="29.9" height="17.9" fill="#2b2b2b"/>
<rect x="427" y="17.9" width="161" height="29" fill="#383838" filter="url(#bl8)"/>
<rect x="384.3" y="170.8" width="203.7" height="51.2" fill="#292929" filter="url(#bl8)"/>
<rect x="0" y="140.9" width="179.3" height="38.4" fill="#3d3d3d" filter="url(#bl8)"/>
<polygon points="192.1,239.1 384.3,239.1 401.4,298.9 341.6,471 256.2,471 200.7,298.9" fill="#1b1b1b" filter="url(#bl8)"/>
<rect x="0" y="64.9" width="158" height="21.3" fill="#7a7a7a" filter="url(#bl2)"/>
<rect x="0" y="68.3" width="128.1" height="12.8" fill="#adadad" filter="url(#bl3)"/>
<rect x="418.4" y="64.9" width="169.5" height="21.3" fill="#7a7a7a" filter="url(#bl2)"/>
<rect x="435.5" y="68.3" width="152.4" height="12.8" fill="#b2b2b2" filter="url(#bl3)"/>
<rect x="158" y="64" width="260.5" height="27.8" fill="#636363" filter="url(#bl4)"/>
<polygon points="187.9,106.7 384.3,106.7 384.3,239.1 367.2,298.9 333,307.4 226.3,307.4 209.2,273.3 187.9,239.1" fill="#454545" filter="url(#bl4)"/>
<rect x="190" y="113.2" width="183.6" height="119.6" fill="#5c5c5c" filter="url(#bl8)"/>
<rect x="210.1" y="124.7" width="139.2" height="90.5" rx="25.6" fill="none" stroke="#7d7d7d" stroke-width="18.8" filter="url(#bl4)"/>
<rect x="239.1" y="149.4" width="85.4" height="44.8" fill="#4c4c4c" filter="url(#bl4)"/>
<rect x="217.8" y="123.8" width="98.2" height="14.9" fill="#b2b2b2" filter="url(#bl4)"/>
<rect x="211.4" y="153.7" width="12.8" height="23.5" fill="#adadad" filter="url(#bl4)"/>
<rect x="243.4" y="204.1" width="93.9" height="14.5" fill="#a3a3a3" filter="url(#bl4)"/>
<ellipse cx="286.9" cy="210.1" rx="9.4" ry="7.7" fill="#d6d6d6" filter="url(#bl4)"/>
<ellipse cx="452.6" cy="77.7" rx="12.8" ry="6" fill="#cccccc" filter="url(#bl4)"/>
<ellipse cx="533.7" cy="77.7" rx="29.9" ry="5.1" fill="#cccccc" filter="url(#bl4)"/>
<ellipse cx="51.2" cy="77.7" rx="47" ry="5.1" fill="#c7c7c7" filter="url(#bl4)"/>
<ellipse cx="285.2" cy="74.7" rx="3" ry="14.9" fill="#dbdbdb" filter="url(#bl2)"/>
</g></g>
<rect x="283.5" y="0" width="3" height="471" fill="#b8c0ff" opacity="0.22"/>
<rect x="0" y="0" width="588" height="471" fill="none" stroke="#2a2340" stroke-width="2" opacity="0.35"/>
<path d="M0 1.2H586.8V471" fill="none" stroke="#1c1a24" stroke-width="2.6" opacity="0.8"/>
<text x="24" y="58" style="font-size:58px;fill:#fff">b1</text>
</g>
<g transform="translate(1264,30)">
<g filter="url(#fb2)"><g clip-path="url(#cpB)">
<linearGradient id="g2" x1="0" y1="0" x2="0" y2="1"><stop offset="0" stop-color="#424242"/><stop offset="0.0725295" stop-color="#454545"/><stop offset="0.0797824" stop-color="#5e5e5e"/><stop offset="0.176791" stop-color="#5e5e5e"/><stop offset="0.185857" stop-color="#454545"/><stop offset="0.253853" stop-color="#404040"/><stop offset="0.38078" stop-color="#3c3c3c"/><stop offset="0.471442" stop-color="#404040"/><stop offset="0.598368" stop-color="#3b3b3b"/><stop offset="0.625567" stop-color="#262626"/><stop offset="0.670898" stop-color="#1a1a1a"/><stop offset="0.725295" stop-color="#080808"/><stop offset="0.815956" stop-color="#000000"/><stop offset="1" stop-color="#000000"/></linearGradient>
<rect x="0" y="0" width="588" height="471" fill="url(#g2)"/>
<rect x="64" y="119.6" width="115.3" height="59.8" fill="#2b2b2b" filter="url(#bl8)"/>
<rect x="384.3" y="119.6" width="179.3" height="59.8" fill="#2b2b2b" filter="url(#bl8)"/>
<rect x="85.4" y="222" width="93.9" height="68.3" fill="#2e2e2e" filter="url(#bl8)"/>
<rect x="384.3" y="230.6" width="85.4" height="59.8" fill="#2e2e2e" filter="url(#bl8)"/>
<rect x="0" y="47" width="162.3" height="20.5" fill="#7a7a7a" filter="url(#bl2)"/>
<rect x="418.4" y="47" width="169.5" height="20.5" fill="#7a7a7a" filter="url(#bl2)"/>
<rect x="444.1" y="50.4" width="115.3" height="14.5" fill="#b2b2b2" filter="url(#bl4)"/>
<rect x="0" y="51.2" width="102.5" height="12.8" fill="#9e9e9e" filter="url(#bl4)"/>
<polygon points="205,290.4 401.4,290.4 384.3,341.6 367.2,471 209.2,471 205,341.6" fill="#1c1c1c" filter="url(#bl8)"/>
<polygon points="209.2,290.4 384.3,290.4 371.5,341.6 324.5,371.5 239.1,371.5 209.2,333" fill="#454545" filter="url(#bl6)"/>
<rect x="187.9" y="106.7" width="205" height="200.7" fill="#616161" filter="url(#bl8)"/>
<rect x="198.5" y="140.9" width="185.7" height="153.7" fill="#787878" filter="url(#bl8)"/>
<rect x="200.7" y="115.3" width="32" height="72.6" fill="#808080" filter="url(#bl4)"/>
<rect x="337.3" y="115.3" width="38.4" height="72.6" fill="#808080" filter="url(#bl4)"/>
<rect x="241.2" y="128.1" width="83.3" height="51.2" fill="#454545" filter="url(#bl6)"/>
<rect x="213.5" y="187.9" width="128.1" height="22.2" fill="#cccccc" filter="url(#bl4)"/>
<rect x="222" y="193" width="72.6" height="12" fill="#e6e6e6" filter="url(#bl4)"/>
<rect x="209.2" y="179.3" width="29.9" height="81.1" fill="#bdbdbd" filter="url(#bl4)"/>
<rect x="215.6" y="222" width="17.1" height="34.2" fill="#d6d6d6" filter="url(#bl4)"/>
<rect x="239.1" y="261.3" width="102.5" height="20.5" fill="#c7c7c7" filter="url(#bl4)"/>
<ellipse cx="298.9" cy="271.6" rx="15.4" ry="6" fill="#f2f2f2" filter="url(#bl4)"/>
<rect x="339.5" y="149.4" width="38.4" height="115.3" fill="#999999" filter="url(#bl6)"/>
<rect x="251.9" y="213.5" width="85.4" height="43.6" fill="#666666" filter="url(#bl4)"/>
<rect x="226.3" y="281.8" width="115.3" height="25.6" fill="#808080" filter="url(#bl6)"/>
<rect x="283.7" y="25.6" width="3" height="102.5" fill="#808080" opacity="0.7"/>
<ellipse cx="285.2" cy="59.8" rx="3.8" ry="17.9" fill="#e6e6e6" filter="url(#bl2)"/>
</g></g>
<rect x="283.5" y="0" width="3" height="471" fill="#b8c0ff" opacity="0.22"/>
<rect x="0" y="0" width="588" height="471" fill="none" stroke="#2a2340" stroke-width="2" opacity="0.35"/>
<path d="M0 1.2H586.8V471" fill="none" stroke="#1c1a24" stroke-width="2.6" opacity="0.8"/>
<text x="20" y="58" style="font-size:58px;fill:#fff">b2</text>
</g>
<g transform="translate(655,524)">
<g filter="url(#fb3)"><g clip-path="url(#cpB)">
<linearGradient id="g3" x1="0" y1="0" x2="0" y2="1"><stop offset="0" stop-color="#000000"/><stop offset="1" stop-color="#000000"/></linearGradient>
<rect x="0" y="0" width="588" height="471" fill="url(#g3)"/>
<rect x="0" y="90.5" width="588" height="33.3" fill="#1b1b1b" filter="url(#bl4)"/>
<rect x="0" y="100.8" width="128.1" height="14.5" fill="#454545" filter="url(#bl2)"/>
<rect x="448.3" y="100.8" width="139.6" height="14.5" fill="#454545" filter="url(#bl2)"/>
<polygon points="230.6,76.9 324.5,76.9 375.7,153.7 409.9,222 405.6,298.9 350.1,341.6 298.9,384.3 230.6,392.8 213.5,324.5 192.1,256.2 192.1,162.3" fill="#1a1a1a" filter="url(#bl6)"/>
<rect x="0" y="194.3" width="588" height="104.6" fill="#1b1b1b" filter="url(#bl8)"/>
<rect x="0" y="244.2" width="145.2" height="29" fill="#454545" filter="url(#bl4)"/>
<rect x="401.4" y="244.2" width="186.6" height="29" fill="#454545" filter="url(#bl4)"/>
<rect x="34.2" y="228.4" width="47" height="17.1" fill="#404040" filter="url(#bl4)"/>
<rect x="469.7" y="228.4" width="118.3" height="17.1" fill="#383838" filter="url(#bl4)"/>
<rect x="209.2" y="164.4" width="158" height="40.6" fill="#454545" filter="url(#bl4)"/>
<rect x="226.3" y="294.6" width="64" height="29.9" fill="#454545" filter="url(#bl4)"/>
<rect x="196.4" y="181.5" width="213.5" height="126" fill="#5c5c5c" filter="url(#bl8)"/>
<rect x="202.8" y="215.6" width="70.5" height="73.9" fill="#7a7a7a" filter="url(#bl8)"/>
<rect x="341.6" y="215.6" width="40.6" height="72.6" fill="#737373" filter="url(#bl8)"/>
<rect x="260.5" y="256.2" width="93.9" height="25.6" fill="#666666" filter="url(#bl6)"/>
<rect x="230.6" y="242.5" width="106.7" height="16.2" fill="#cccccc" filter="url(#bl3)"/>
<rect x="256.2" y="245.1" width="55.5" height="10.2" fill="#e0e0e0" filter="url(#bl3)"/>
<rect x="225.4" y="241.2" width="30.7" height="49.1" fill="#b2b2b2" filter="url(#bl4)"/>
<rect x="230.6" y="256.2" width="10.7" height="29.9" fill="#d6d6d6" filter="url(#bl3)"/>
<rect x="283.7" y="85.4" width="3" height="119.6" fill="#808080" opacity="0.8"/>
<ellipse cx="286.1" cy="106.7" rx="2.6" ry="9.4" fill="#e6e6e6" filter="url(#bl2)"/>
</g></g>
<rect x="283.5" y="0" width="3" height="448" fill="#b8c0ff" opacity="0.22"/>
<rect x="0" y="0" width="588" height="471" fill="none" stroke="#2a2340" stroke-width="2" opacity="0.35"/>
<path d="M0 1.2H586.8V471" fill="none" stroke="#1c1a24" stroke-width="2.6" opacity="0.8"/>
<text x="9" y="58" style="font-size:58px;fill:#fff">b3</text>
</g>
<g transform="translate(1264,524)">
<g filter="url(#fb4)"><g clip-path="url(#cpB)">
<linearGradient id="g4" x1="0" y1="0" x2="0" y2="1"><stop offset="0" stop-color="#000000"/><stop offset="0.0906618" stop-color="#050505"/><stop offset="0.11786" stop-color="#1a1a1a"/><stop offset="0.389846" stop-color="#1a1a1a"/><stop offset="0.426111" stop-color="#050505"/><stop offset="0.598368" stop-color="#050505"/><stop offset="0.634633" stop-color="#1a1a1a"/><stop offset="0.815956" stop-color="#1a1a1a"/><stop offset="0.852221" stop-color="#050505"/><stop offset="1" stop-color="#000000"/></linearGradient>
<rect x="0" y="0" width="588" height="471" fill="url(#g4)"/>
<rect x="187.9" y="51.2" width="239.1" height="419.7" fill="#1b1b1b" filter="url(#bl8)"/>
<rect x="0" y="83.3" width="588" height="49.1" fill="#424242" filter="url(#bl4)"/>
<rect x="205" y="83.3" width="196.4" height="49.1" fill="#292929" filter="url(#bl6)"/>
<rect x="0" y="100.8" width="115.3" height="23.1" fill="#757575" filter="url(#bl4)"/>
<rect x="461.1" y="100.8" width="126.8" height="23.1" fill="#808080" filter="url(#bl4)"/>
<rect x="115.3" y="102.5" width="89.7" height="25.6" fill="#4c4c4c" filter="url(#bl4)"/>
<rect x="401.4" y="85.4" width="59.8" height="42.7" fill="#4c4c4c" filter="url(#bl4)"/>
<rect x="273.3" y="162.3" width="47" height="34.2" fill="#454545" filter="url(#bl3)"/>
<polygon points="192.1,213.5 409.9,213.5 409.9,324.5 446.2,324.5 446.2,386.4 409.9,401.4 273.3,401.4 273.3,471 209.2,471 209.2,401.4 192.1,401.4" fill="#454545" filter="url(#bl5)"/>
<rect x="324.5" y="239.1" width="29.9" height="34.2" fill="#262626" filter="url(#bl4)"/>
<rect x="192.1" y="294.6" width="254.1" height="89.7" fill="#5c5c5c" filter="url(#bl6)"/>
<rect x="205" y="298.9" width="153.7" height="22.2" fill="#7d7d7d" filter="url(#bl4)"/>
<rect x="256.2" y="302.3" width="98.2" height="14.5" fill="#adadad" filter="url(#bl4)"/>
<rect x="200.7" y="324.5" width="79" height="61.9" fill="#808080" filter="url(#bl5)"/>
<rect x="213.5" y="328.8" width="51.2" height="51.2" fill="#9e9e9e" filter="url(#bl6)"/>
<ellipse cx="245.5" cy="368.1" rx="12.8" ry="12" fill="#ededed" filter="url(#bl4)"/>
<rect x="367.2" y="324.5" width="53.4" height="51.2" fill="#7a7a7a" filter="url(#bl5)"/>
<rect x="316" y="355.3" width="55.5" height="17.1" fill="#949494" filter="url(#bl4)"/>
<rect x="281.8" y="328.8" width="81.1" height="25.6" fill="#474747" filter="url(#bl4)"/>
<rect x="209.2" y="260.5" width="47" height="34.2" fill="#666666" filter="url(#bl5)"/>
<rect x="367.2" y="264.7" width="42.7" height="34.2" fill="#616161" filter="url(#bl5)"/>
<rect x="482.5" y="355.3" width="81.1" height="16.2" fill="#424242" filter="url(#bl3)"/>
<rect x="17.1" y="357" width="29.9" height="12.8" fill="#404040" filter="url(#bl3)"/>
<rect x="291.8" y="51.2" width="4" height="170.8" fill="#808080" opacity="0.8"/>
<ellipse cx="293.8" cy="111.9" rx="3.8" ry="17.1" fill="#e6e6e6" filter="url(#bl2)"/>
</g></g>
<rect x="292" y="0" width="3" height="265" fill="#b8c0ff" opacity="0.22"/>
<rect x="0" y="0" width="588" height="471" fill="none" stroke="#2a2340" stroke-width="2" opacity="0.35"/>
<path d="M0 1.2H586.8V471" fill="none" stroke="#1c1a24" stroke-width="2.6" opacity="0.8"/>
<text x="7" y="58" style="font-size:58px;fill:#fff">b4</text>
</g>
<g transform="translate(2134,32)">
<g filter="url(#fc)"><g clip-path="url(#cpC)">
<linearGradient id="gc" x1="0" y1="0" x2="0" y2="1"><stop offset="0" stop-color="#363636"/><stop offset="0.0622407" stop-color="#383838"/><stop offset="0.093361" stop-color="#4c4c4c"/><stop offset="0.122407" stop-color="#666666"/><stop offset="0.311203" stop-color="#6b6b6b"/><stop offset="0.352697" stop-color="#474747"/><stop offset="0.705394" stop-color="#424242"/><stop offset="0.726141" stop-color="#5c5c5c"/><stop offset="0.819502" stop-color="#5c5c5c"/><stop offset="0.840249" stop-color="#454545"/><stop offset="0.881743" stop-color="#2e2e2e"/><stop offset="0.923237" stop-color="#0d0d0d"/><stop offset="1" stop-color="#050505"/></linearGradient>
<rect x="0" y="0" width="888" height="964" fill="url(#gc)"/>
<rect x="439.2" y="1.6" width="448.7" height="99.7" fill="#141414" filter="url(#bl16)" opacity="0.9"/>
<rect x="203.5" y="1.6" width="190.4" height="72.5" fill="#1f1f1f" filter="url(#bl16)" opacity="0.85"/>
<rect x="-0.4" y="1.6" width="122.4" height="54.4" fill="#383838" filter="url(#bl16)" opacity="0.6"/>
<rect x="4.1" y="377.8" width="217.6" height="110.1" fill="#383838" filter="url(#bl16)" opacity="0.7"/>
<rect x="4.1" y="468" width="235.7" height="203.9" fill="#3d3d3d" filter="url(#bl16)" opacity="0.6"/>
<rect x="597.8" y="332.4" width="290.1" height="155.5" fill="#383838" filter="url(#bl16)" opacity="0.7"/>
<rect x="629.6" y="468" width="258.3" height="203.9" fill="#3d3d3d" filter="url(#bl16)" opacity="0.6"/>
<rect x="-0.4" y="160.2" width="276.5" height="145" fill="#858585" filter="url(#bl12)"/>
<rect x="557" y="160.2" width="330.9" height="145" fill="#858585" filter="url(#bl12)"/>
<rect x="276.1" y="178.3" width="280.9" height="104.3" fill="#808080" filter="url(#bl12)"/>
<rect x="31.3" y="259.9" width="190.4" height="72.5" fill="#808080" filter="url(#bl12)" opacity="0.7"/>
<rect x="620.5" y="259.9" width="226.6" height="45.3" fill="#808080" filter="url(#bl12)" opacity="0.7"/>
<rect x="-0.4" y="189.7" width="258.3" height="71.1" fill="#9c9c9c" filter="url(#bl6)"/>
<rect x="593.3" y="189.7" width="296.8" height="71.1" fill="#9c9c9c" filter="url(#bl6)"/>
<g filter="url(#bl2)"><rect x="0" y="196.2" width="8" height="62.9" fill="#fafafa"/><rect x="8" y="191.9" width="8" height="69.6" fill="#f8f8f8"/><rect x="20" y="197.8" width="4" height="63.9" fill="#eeeeee"/><rect x="24" y="194.4" width="8" height="67" fill="#fefefe"/><rect x="32" y="185.9" width="4" height="67.2" fill="#f9f9f9"/><rect x="36" y="189.7" width="4" height="71.4" fill="#f7f7f7"/><rect x="40" y="192.2" width="4" height="69.9" fill="#f2f2f2"/><rect x="44" y="192.9" width="8" height="73.1" fill="#e8e8e8"/><rect x="52" y="188.3" width="4" height="68.5" fill="#e3e3e3"/><rect x="56" y="186.6" width="4" height="70.2" fill="#d6d6d6"/><rect x="60" y="185" width="4" height="70.6" fill="#fafafa"/><rect x="64" y="190.7" width="4" height="62.9" fill="#fefefe"/><rect x="68" y="189.9" width="12" height="67.2" fill="#f3f3f3"/><rect x="80" y="186.7" width="4" height="69.4" fill="#f6f6f6"/><rect x="88" y="193.1" width="8" height="66" fill="#dbdbdb"/><rect x="96" y="191" width="4" height="67.1" fill="#f7f7f7"/><rect x="100" y="188.9" width="8" height="77.7" fill="#dddddd"/><rect x="108" y="188" width="8" height="70.2" fill="#fbfbfb"/><rect x="116" y="199.2" width="8" height="56.4" fill="#d5d5d5"/><rect x="128" y="186.1" width="8" height="67.8" fill="#e2e2e2"/><rect x="136" y="190.3" width="8" height="71.3" fill="#cccccc"/><rect x="144" y="193.3" width="4" height="71.8" fill="#ebebeb"/><rect x="148" y="188.3" width="4" height="73.1" fill="#e3e3e3"/><rect x="152" y="198.5" width="12" height="56.9" fill="#f6f6f6"/><rect x="164" y="191.1" width="8" height="63" fill="#f0f0f0"/><rect x="172" y="195.7" width="4" height="62.6" fill="#e0e0e0"/><rect x="176" y="189.2" width="8" height="65.9" fill="#f0f0f0"/><rect x="184" y="191.9" width="12" height="70.1" fill="#d7d7d7"/><rect x="196" y="198.2" width="8" height="57.3" fill="#e1e1e1"/></g>
<g filter="url(#bl2)"><rect x="210" y="192.1" width="8" height="61.9" fill="#a9a9a9"/><rect x="218" y="203.1" width="4" height="49.1" fill="#b9b9b9"/><rect x="222" y="197.6" width="4" height="53.6" fill="#a9a9a9"/><rect x="234" y="202.2" width="8" height="48.1" fill="#c2c2c2"/><rect x="242" y="194.9" width="4" height="67" fill="#c1c1c1"/><rect x="246" y="197.4" width="4" height="53.5" fill="#a7a7a7"/><rect x="250" y="204.5" width="4" height="56" fill="#bdbdbd"/></g>
<g filter="url(#bl2)"><rect x="622" y="196.5" width="4" height="68.9" fill="#fcfcfc"/><rect x="626" y="188.2" width="12" height="74.9" fill="#d9d9d9"/><rect x="642" y="186.8" width="4" height="75.6" fill="#cecece"/><rect x="646" y="186.2" width="4" height="77.8" fill="#f9f9f9"/><rect x="650" y="198.7" width="4" height="65.4" fill="#f6f6f6"/><rect x="654" y="197.9" width="4" height="62.6" fill="#dedede"/><rect x="658" y="194.2" width="8" height="67.8" fill="#fbfbfb"/><rect x="666" y="199.2" width="4" height="63.4" fill="#f8f8f8"/><rect x="670" y="191.3" width="8" height="71.8" fill="#ffffff"/><rect x="678" y="192.5" width="8" height="63.7" fill="#dcdcdc"/><rect x="686" y="197.8" width="8" height="63.1" fill="#e1e1e1"/><rect x="694" y="187.8" width="8" height="70.1" fill="#dedede"/><rect x="702" y="191.7" width="4" height="61" fill="#f1f1f1"/><rect x="706" y="187" width="8" height="77.2" fill="#cfcfcf"/><rect x="714" y="191" width="8" height="74.1" fill="#dadada"/><rect x="722" y="190.4" width="4" height="72.5" fill="#fafafa"/><rect x="726" y="188.4" width="4" height="71.3" fill="#f4f4f4"/><rect x="738" y="195.5" width="12" height="62" fill="#e5e5e5"/><rect x="750" y="193" width="4" height="72.6" fill="#f8f8f8"/><rect x="758" y="195" width="12" height="71.6" fill="#f8f8f8"/><rect x="770" y="186.8" width="4" height="70.3" fill="#ededed"/><rect x="774" y="193.6" width="8" height="60.1" fill="#e0e0e0"/><rect x="782" y="185.5" width="8" height="71.7" fill="#fafafa"/><rect x="790" y="192.4" width="4" height="67" fill="#fefefe"/><rect x="794" y="190.4" width="12" height="72.5" fill="#f8f8f8"/><rect x="806" y="194.9" width="4" height="70" fill="#e0e0e0"/><rect x="810" y="196.1" width="4" height="65" fill="#dedede"/><rect x="814" y="185.5" width="8" height="72.8" fill="#e5e5e5"/><rect x="826" y="196.1" width="4" height="59.2" fill="#c9c9c9"/><rect x="830" y="185.9" width="8" height="74.3" fill="#e7e7e7"/><rect x="838" y="190.3" width="4" height="64.5" fill="#d0d0d0"/><rect x="842" y="185.5" width="4" height="69" fill="#e7e7e7"/><rect x="846" y="193.4" width="4" height="65.5" fill="#f0f0f0"/><rect x="850" y="196.6" width="4" height="60.7" fill="#d7d7d7"/><rect x="854" y="197.9" width="8" height="67.9" fill="#fcfcfc"/><rect x="862" y="190.4" width="12" height="67.2" fill="#ebebeb"/><rect x="878" y="192.5" width="4" height="73.4" fill="#fdfdfd"/><rect x="882" y="185.8" width="6" height="74.7" fill="#e7e7e7"/></g>
<g filter="url(#bl2)"><rect x="596" y="202.7" width="4" height="45.6" fill="#c9c9c9"/><rect x="620" y="207.6" width="2" height="40.9" fill="#bbbbbb"/></g>
<g filter="url(#bl2)"><rect x="36" y="155.6" width="4" height="39.2" fill="#ababab"/><rect x="164" y="174.9" width="4" height="21.7" fill="#a9a9a9"/><rect x="120" y="151.2" width="4" height="40" fill="#989898"/><rect x="200" y="155.6" width="4" height="25.4" fill="#a9a9a9"/><rect x="172" y="154.5" width="4" height="35.1" fill="#9a9a9a"/><rect x="120" y="159.9" width="8" height="29.9" fill="#a7a7a7"/><rect x="156" y="171.8" width="4" height="26.5" fill="#9a9a9a"/><rect x="216" y="156.5" width="4" height="36.7" fill="#8d8d8d"/><rect x="184" y="168.8" width="4" height="19.4" fill="#a8a8a8"/><rect x="196" y="155.1" width="8" height="16.4" fill="#aaaaaa"/><rect x="196" y="161.5" width="4" height="25.5" fill="#9f9f9f"/><rect x="216" y="154.4" width="4" height="25.6" fill="#989898"/></g>
<g filter="url(#bl2)"><rect x="72" y="273.3" width="8" height="28.3" fill="#8c8c8c"/><rect x="72" y="267.5" width="4" height="45" fill="#969696"/><rect x="148" y="285.1" width="4" height="43.7" fill="#8d8d8d"/><rect x="60" y="262.9" width="4" height="23.5" fill="#a0a0a0"/><rect x="152" y="276" width="8" height="37.5" fill="#969696"/><rect x="112" y="278.1" width="4" height="23.6" fill="#8f8f8f"/><rect x="88" y="295.4" width="4" height="32.8" fill="#8e8e8e"/><rect x="76" y="271.9" width="4" height="49.1" fill="#919191"/><rect x="60" y="280.9" width="8" height="26.3" fill="#9c9c9c"/><rect x="124" y="281.5" width="8" height="44.9" fill="#ababab"/><rect x="152" y="278.3" width="4" height="32.2" fill="#9d9d9d"/><rect x="212" y="298.2" width="4" height="16.8" fill="#aaaaaa"/><rect x="108" y="295.5" width="4" height="17.1" fill="#979797"/><rect x="48" y="269.9" width="4" height="33.4" fill="#8f8f8f"/></g>
<g filter="url(#bl2)"><rect x="708" y="170.6" width="4" height="28.5" fill="#a6a6a6"/><rect x="648" y="151.9" width="4" height="32.9" fill="#999999"/><rect x="828" y="163.8" width="4" height="33.9" fill="#a1a1a1"/><rect x="768" y="152.4" width="8" height="32.4" fill="#919191"/><rect x="808" y="152.3" width="4" height="35" fill="#9f9f9f"/><rect x="668" y="153.7" width="4" height="38.9" fill="#a4a4a4"/><rect x="860" y="152.6" width="8" height="17.7" fill="#9c9c9c"/><rect x="736" y="156.9" width="4" height="39.9" fill="#9d9d9d"/><rect x="652" y="159.6" width="8" height="24.1" fill="#a5a5a5"/><rect x="820" y="159.6" width="8" height="24.5" fill="#a9a9a9"/><rect x="764" y="177.1" width="4" height="21.7" fill="#989898"/><rect x="784" y="155.3" width="4" height="22.4" fill="#9f9f9f"/><rect x="712" y="155.2" width="4" height="29.3" fill="#989898"/><rect x="776" y="177.2" width="4" height="20.1" fill="#959595"/></g>
<g filter="url(#bl2)"><rect x="684" y="271.3" width="8" height="20.4" fill="#9a9a9a"/><rect x="844" y="268" width="8" height="27.9" fill="#929292"/><rect x="800" y="265.4" width="4" height="37.6" fill="#a2a2a2"/><rect x="688" y="263.9" width="4" height="36.8" fill="#979797"/><rect x="708" y="266.3" width="8" height="28.2" fill="#8c8c8c"/><rect x="736" y="268.6" width="4" height="39.4" fill="#969696"/><rect x="780" y="277.1" width="4" height="29.8" fill="#959595"/><rect x="756" y="278.6" width="8" height="18.8" fill="#9a9a9a"/><rect x="792" y="264.5" width="4" height="35.1" fill="#a3a3a3"/><rect x="852" y="278.6" width="8" height="19.2" fill="#929292"/><rect x="836" y="282.4" width="4" height="22.2" fill="#9f9f9f"/><rect x="676" y="265.1" width="8" height="27.3" fill="#8e8e8e"/></g>
<polygon points="239.8,323.4 548,323.4 620.5,604 643.1,903.1 267,903.1 248.9,604" fill="#949494" filter="url(#bl12)"/>
<rect x="280.6" y="894" width="317.2" height="68.9" fill="#757575" filter="url(#bl10)"/>
<polygon points="396,0 426,0 432,964 402,964" fill="#949494" filter="url(#bl4)"/>
<rect x="239.8" y="346" width="303.6" height="38.6" fill="#9e9e9e" filter="url(#bl6)"/>
<g filter="url(#bl2)"><rect x="330" y="338.1" width="4" height="39.8" fill="#d2d2d2"/><rect x="334" y="338.6" width="4" height="43.1" fill="#d9d9d9"/><rect x="350" y="342.2" width="4" height="36" fill="#b0b0b0"/><rect x="362" y="343.2" width="4" height="39.9" fill="#d6d6d6"/><rect x="374" y="344.2" width="4" height="35.7" fill="#b4b4b4"/><rect x="382" y="343.9" width="4" height="37.1" fill="#b5b5b5"/><rect x="386" y="338.2" width="4" height="39.4" fill="#c3c3c3"/><rect x="394" y="342" width="4" height="35.9" fill="#bdbdbd"/><rect x="398" y="341.7" width="4" height="43.3" fill="#dcdcdc"/><rect x="402" y="333.6" width="4" height="47.7" fill="#d6d6d6"/><rect x="406" y="343.8" width="4" height="42.7" fill="#bbbbbb"/><rect x="418" y="344.7" width="4" height="35.4" fill="#c6c6c6"/><rect x="430" y="338.3" width="4" height="43.1" fill="#e0e0e0"/><rect x="434" y="334.8" width="4" height="48.2" fill="#d7d7d7"/><rect x="438" y="334.3" width="4" height="43.1" fill="#d1d1d1"/><rect x="446" y="339.6" width="4" height="39.5" fill="#c4c4c4"/><rect x="458" y="336.8" width="4" height="47.1" fill="#d8d8d8"/></g>
<g filter="url(#bl2)"><rect x="292" y="335.1" width="4" height="39" fill="#acacac"/><rect x="248" y="351.5" width="4" height="32.8" fill="#a6a6a6"/><rect x="300" y="369.9" width="4" height="17.2" fill="#bababa"/><rect x="240" y="345.6" width="4" height="33" fill="#a6a6a6"/><rect x="292" y="358.8" width="4" height="26.1" fill="#bbbbbb"/><rect x="292" y="347.8" width="4" height="34.6" fill="#a6a6a6"/><rect x="316" y="349" width="4" height="39" fill="#bbbbbb"/><rect x="296" y="356.1" width="4" height="28.4" fill="#a4a4a4"/></g>
<g filter="url(#bl2)"><rect x="468" y="349.5" width="4" height="38.2" fill="#adadad"/><rect x="476" y="334.4" width="4" height="26.2" fill="#a9a9a9"/><rect x="468" y="364.9" width="8" height="21.3" fill="#b7b7b7"/><rect x="520" y="346.4" width="4" height="28" fill="#a7a7a7"/><rect x="512" y="355.1" width="4" height="17.4" fill="#aeaeae"/><rect x="528" y="341.7" width="4" height="39.3" fill="#b7b7b7"/><rect x="528" y="351.3" width="4" height="22.8" fill="#a3a3a3"/><rect x="476" y="351.9" width="8" height="27.6" fill="#b2b2b2"/></g>
<rect x="330.4" y="395.9" width="167.7" height="92" fill="#808080" filter="url(#bl10)"/>
<rect x="330.4" y="468" width="167.7" height="45.3" fill="#808080" filter="url(#bl10)"/>
<rect x="375.8" y="581.3" width="126.9" height="99.7" fill="#808080" filter="url(#bl10)"/>
<rect x="384.8" y="767.1" width="122.4" height="90.7" fill="#8a8a8a" filter="url(#bl10)"/>
<rect x="257.9" y="441.2" width="72.5" height="46.7" fill="#b2b2b2" filter="url(#bl8)"/>
<rect x="257.9" y="468" width="81.6" height="181.3" fill="#b8b8b8" filter="url(#bl8)"/>
<polygon points="285.1,640.2 348.6,640.2 384.8,857.8 303.2,903.1" fill="#b8b8b8" filter="url(#bl8)"/>
<g filter="url(#bl2)"><rect x="268" y="581.6" width="4" height="24.7" fill="#c9c9c9"/><rect x="268" y="534.5" width="4" height="77.2" fill="#f9f9f9"/><rect x="288" y="465.2" width="4" height="25.9" fill="#dedede"/><rect x="300" y="459.2" width="4" height="47.1" fill="#f4f4f4"/><rect x="280" y="495.1" width="4" height="43.1" fill="#f8f8f8"/><rect x="296" y="512.5" width="4" height="35.8" fill="#cacaca"/><rect x="272" y="505.1" width="4" height="26.9" fill="#f2f2f2"/><rect x="288" y="451.2" width="4" height="79.4" fill="#dddddd"/><rect x="300" y="552.1" width="4" height="69.3" fill="#d1d1d1"/><rect x="276" y="512.4" width="4" height="59.9" fill="#d6d6d6"/><rect x="300" y="539.6" width="8" height="56" fill="#f8f8f8"/><rect x="276" y="543.7" width="4" height="78.7" fill="#d0d0d0"/><rect x="272" y="454.1" width="4" height="58.9" fill="#f6f6f6"/><rect x="276" y="542" width="4" height="57.7" fill="#d6d6d6"/><rect x="272" y="455.8" width="4" height="71" fill="#d8d8d8"/><rect x="268" y="531.8" width="4" height="46.6" fill="#cccccc"/><rect x="272" y="565.8" width="4" height="79" fill="#cfcfcf"/><rect x="288" y="502.1" width="4" height="79.4" fill="#efefef"/><rect x="288" y="607.3" width="4" height="39.6" fill="#e5e5e5"/><rect x="296" y="459.1" width="8" height="71.9" fill="#eaeaea"/><rect x="300" y="473.5" width="4" height="78.5" fill="#f9f9f9"/><rect x="292" y="456.1" width="4" height="43.5" fill="#dedede"/><rect x="308" y="456.3" width="4" height="79.6" fill="#c9c9c9"/><rect x="312" y="559.6" width="4" height="58.4" fill="#f3f3f3"/></g>
<g filter="url(#bl2)"><rect x="332" y="672.6" width="4" height="34.6" fill="#e0e0e0"/><rect x="320" y="662.9" width="4" height="31.5" fill="#f9f9f9"/><rect x="296" y="713.7" width="8" height="61.4" fill="#f5f5f5"/><rect x="344" y="748" width="4" height="37.6" fill="#dedede"/><rect x="316" y="734.9" width="4" height="47.3" fill="#d8d8d8"/><rect x="324" y="727.1" width="4" height="61.5" fill="#fcfcfc"/><rect x="308" y="672.1" width="4" height="63.3" fill="#fcfcfc"/><rect x="336" y="765" width="4" height="40" fill="#f6f6f6"/><rect x="296" y="696.2" width="4" height="65.2" fill="#f1f1f1"/><rect x="300" y="716.6" width="4" height="80.5" fill="#eaeaea"/><rect x="344" y="669.5" width="8" height="78.8" fill="#f9f9f9"/><rect x="304" y="650.7" width="4" height="37.9" fill="#e6e6e6"/><rect x="328" y="746.9" width="4" height="41.6" fill="#ececec"/><rect x="356" y="743.4" width="4" height="49.6" fill="#f9f9f9"/><rect x="312" y="683.5" width="4" height="67.1" fill="#f4f4f4"/><rect x="352" y="771.9" width="4" height="41.7" fill="#f1f1f1"/><rect x="340" y="854.6" width="4" height="38.3" fill="#dbdbdb"/><rect x="328" y="819.5" width="4" height="30.1" fill="#fefefe"/><rect x="348" y="710" width="8" height="85.4" fill="#e8e8e8"/><rect x="332" y="654.3" width="4" height="86.4" fill="#fefefe"/><rect x="352" y="744.9" width="4" height="42.6" fill="#e6e6e6"/><rect x="352" y="749.8" width="4" height="79.3" fill="#fafafa"/><rect x="352" y="793.3" width="4" height="32.9" fill="#e6e6e6"/><rect x="332" y="682.5" width="4" height="36.9" fill="#dddddd"/><rect x="352" y="726.9" width="4" height="67.2" fill="#d6d6d6"/><rect x="292" y="642.9" width="4" height="79.8" fill="#e4e4e4"/><rect x="356" y="733.7" width="4" height="73.6" fill="#f9f9f9"/><rect x="304" y="696.4" width="4" height="75.1" fill="#e0e0e0"/><rect x="348" y="673.7" width="4" height="77.8" fill="#fefefe"/><rect x="336" y="718.5" width="4" height="44.8" fill="#e4e4e4"/><rect x="324" y="759.8" width="4" height="66.9" fill="#d7d7d7"/><rect x="328" y="661.5" width="4" height="60.6" fill="#f0f0f0"/><rect x="324" y="651.5" width="8" height="43.6" fill="#fafafa"/><rect x="324" y="816.6" width="4" height="56.8" fill="#f1f1f1"/><rect x="352" y="699.4" width="4" height="75.4" fill="#f7f7f7"/><rect x="320" y="820" width="4" height="46.2" fill="#e3e3e3"/><rect x="344" y="732.1" width="4" height="86.5" fill="#e8e8e8"/><rect x="352" y="703.6" width="4" height="45.3" fill="#f2f2f2"/><rect x="292" y="675.2" width="8" height="30.1" fill="#e0e0e0"/><rect x="344" y="812.1" width="4" height="44.6" fill="#ededed"/><rect x="324" y="708.1" width="4" height="34.5" fill="#eaeaea"/><rect x="348" y="753.6" width="4" height="58.3" fill="#fcfcfc"/><rect x="332" y="834.8" width="4" height="45.4" fill="#dadada"/><rect x="348" y="804.6" width="4" height="50.9" fill="#f0f0f0"/><rect x="300" y="751.5" width="4" height="66.1" fill="#ededed"/><rect x="344" y="689.1" width="4" height="46.5" fill="#e8e8e8"/><rect x="344" y="768.2" width="4" height="55.1" fill="#fafafa"/><rect x="300" y="743.9" width="4" height="71.7" fill="#fefefe"/><rect x="332" y="666.5" width="4" height="41.8" fill="#fafafa"/><rect x="340" y="713" width="4" height="79.5" fill="#d9d9d9"/><rect x="316" y="679.1" width="4" height="39.7" fill="#ededed"/><rect x="328" y="678.5" width="4" height="53.1" fill="#e8e8e8"/></g>
<g filter="url(#bl2)"><rect x="308" y="780.8" width="4" height="42.8" fill="#cbcbcb"/><rect x="376" y="836" width="4" height="55.6" fill="#d7d7d7"/><rect x="368" y="630.2" width="8" height="32.8" fill="#cbcbcb"/><rect x="368" y="661.8" width="4" height="32.1" fill="#cfcfcf"/><rect x="308" y="770.7" width="8" height="54.4" fill="#bfbfbf"/><rect x="272" y="488" width="4" height="50.6" fill="#d8d8d8"/><rect x="292" y="864.6" width="4" height="31.4" fill="#c0c0c0"/><rect x="308" y="652.2" width="4" height="46.1" fill="#c0c0c0"/><rect x="340" y="600.9" width="8" height="46.3" fill="#d4d4d4"/><rect x="272" y="466.9" width="4" height="34.6" fill="#d1d1d1"/><rect x="288" y="561.1" width="8" height="20.1" fill="#bababa"/><rect x="356" y="687.3" width="8" height="46.1" fill="#c9c9c9"/><rect x="272" y="645.1" width="4" height="38.2" fill="#c1c1c1"/><rect x="356" y="485.5" width="4" height="50.3" fill="#b3b3b3"/><rect x="368" y="742.5" width="8" height="41.7" fill="#d3d3d3"/><rect x="328" y="735.7" width="8" height="54.5" fill="#cdcdcd"/><rect x="316" y="627.2" width="4" height="55.4" fill="#c6c6c6"/><rect x="348" y="606.6" width="8" height="30.4" fill="#bfbfbf"/><rect x="284" y="482.4" width="4" height="58.3" fill="#cecece"/><rect x="300" y="816.8" width="4" height="44.9" fill="#cecece"/><rect x="352" y="624.8" width="8" height="34.1" fill="#d6d6d6"/><rect x="344" y="784.6" width="4" height="54.8" fill="#cecece"/><rect x="368" y="783.4" width="4" height="29.1" fill="#b5b5b5"/><rect x="332" y="526.7" width="4" height="24.7" fill="#b5b5b5"/><rect x="380" y="676.8" width="4" height="47.2" fill="#cdcdcd"/><rect x="368" y="621.8" width="4" height="20.3" fill="#d2d2d2"/><rect x="340" y="779.1" width="4" height="25.5" fill="#bbbbbb"/><rect x="280" y="579.8" width="4" height="42.3" fill="#d5d5d5"/><rect x="364" y="846.6" width="4" height="40" fill="#d2d2d2"/><rect x="304" y="658.6" width="4" height="20.7" fill="#bfbfbf"/></g>
<rect x="498.1" y="441.2" width="58.9" height="46.7" fill="#a8a8a8" filter="url(#bl8)"/>
<rect x="507.2" y="468" width="86.1" height="353.5" fill="#a8a8a8" filter="url(#bl8)"/>
<rect x="439.2" y="794.3" width="190.4" height="81.6" fill="#9e9e9e" filter="url(#bl10)"/>
<g filter="url(#bl2)"><rect x="584" y="792.1" width="4" height="35.2" fill="#c5c5c5"/><rect x="540" y="624.8" width="4" height="55.9" fill="#d2d2d2"/><rect x="580" y="669.5" width="4" height="43.1" fill="#c7c7c7"/><rect x="536" y="796.5" width="4" height="26.2" fill="#c1c1c1"/><rect x="560" y="481" width="4" height="47.6" fill="#c7c7c7"/><rect x="540" y="466.1" width="4" height="31.3" fill="#c9c9c9"/><rect x="588" y="483" width="4" height="42.2" fill="#d0d0d0"/><rect x="528" y="528.2" width="4" height="59.2" fill="#b9b9b9"/><rect x="576" y="748" width="8" height="43.1" fill="#c2c2c2"/><rect x="564" y="588.3" width="4" height="25.8" fill="#c9c9c9"/><rect x="516" y="470.4" width="4" height="35.8" fill="#d9d9d9"/><rect x="584" y="631" width="4" height="36.1" fill="#cfcfcf"/><rect x="568" y="728.3" width="4" height="32.9" fill="#d1d1d1"/><rect x="568" y="778.1" width="4" height="47.3" fill="#d8d8d8"/><rect x="544" y="655.3" width="4" height="36.5" fill="#d6d6d6"/><rect x="540" y="513.1" width="4" height="58.5" fill="#c8c8c8"/><rect x="564" y="468.3" width="8" height="48.9" fill="#cbcbcb"/><rect x="584" y="532.2" width="4" height="57.2" fill="#c3c3c3"/><rect x="532" y="702.3" width="8" height="57" fill="#c7c7c7"/><rect x="528" y="518.4" width="4" height="23.2" fill="#c8c8c8"/><rect x="560" y="637.4" width="4" height="29.6" fill="#c9c9c9"/><rect x="516" y="686.9" width="8" height="24.9" fill="#dbdbdb"/><rect x="552" y="631.2" width="4" height="43.9" fill="#dadada"/><rect x="560" y="450" width="4" height="55.7" fill="#d9d9d9"/><rect x="592" y="581.7" width="4" height="45.5" fill="#dadada"/><rect x="544" y="518.9" width="4" height="21.7" fill="#d9d9d9"/><rect x="580" y="490.4" width="4" height="58.2" fill="#cdcdcd"/><rect x="544" y="649.4" width="4" height="53.2" fill="#c6c6c6"/><rect x="548" y="474.2" width="4" height="39.7" fill="#c7c7c7"/><rect x="528" y="542.2" width="8" height="39.4" fill="#c8c8c8"/></g>
<g filter="url(#bl2)"><rect x="532" y="530.3" width="4" height="39.2" fill="#dddddd"/><rect x="520" y="533.6" width="4" height="23.1" fill="#dcdcdc"/><rect x="560" y="529.8" width="4" height="27" fill="#f0f0f0"/><rect x="564" y="527.9" width="8" height="32.6" fill="#d9d9d9"/><rect x="528" y="512.2" width="8" height="44.2" fill="#f8f8f8"/><rect x="540" y="519" width="4" height="30.1" fill="#e4e4e4"/><rect x="552" y="538" width="4" height="27.9" fill="#f9f9f9"/><rect x="556" y="540.3" width="4" height="31.4" fill="#f5f5f5"/></g>
<g filter="url(#bl2)"><rect x="548" y="704" width="4" height="21.2" fill="#eaeaea"/><rect x="556" y="661.3" width="8" height="22.9" fill="#e6e6e6"/><rect x="524" y="629.9" width="8" height="38.7" fill="#d9d9d9"/><rect x="560" y="601.1" width="4" height="23.7" fill="#e4e4e4"/><rect x="548" y="645.7" width="4" height="43.2" fill="#d8d8d8"/><rect x="544" y="689.2" width="4" height="21.8" fill="#efefef"/><rect x="580" y="693.1" width="4" height="35.7" fill="#e9e9e9"/><rect x="568" y="599.5" width="4" height="39.5" fill="#ececec"/></g>
<g filter="url(#bl2)"><rect x="484" y="787.3" width="4" height="32.3" fill="#a9a9a9"/><rect x="592" y="780.7" width="4" height="23.5" fill="#c1c1c1"/><rect x="588" y="829.6" width="8" height="29.1" fill="#c0c0c0"/><rect x="560" y="853.5" width="4" height="30.7" fill="#acacac"/><rect x="500" y="799.1" width="4" height="22.1" fill="#cacaca"/><rect x="516" y="773" width="4" height="44.7" fill="#b9b9b9"/><rect x="588" y="780.7" width="4" height="47.5" fill="#c4c4c4"/><rect x="580" y="847.2" width="8" height="21.3" fill="#c1c1c1"/><rect x="532" y="801.3" width="4" height="45.3" fill="#b8b8b8"/><rect x="528" y="790" width="4" height="44.1" fill="#c5c5c5"/><rect x="632" y="825.1" width="4" height="40.5" fill="#c3c3c3"/><rect x="444" y="792.7" width="4" height="28.3" fill="#c3c3c3"/><rect x="508" y="860.1" width="4" height="39.4" fill="#afafaf"/><rect x="484" y="782" width="4" height="23.3" fill="#c2c2c2"/><rect x="532" y="824.1" width="4" height="50" fill="#adadad"/><rect x="496" y="820.8" width="4" height="48" fill="#bfbfbf"/></g>
<rect x="276.1" y="521.5" width="296.8" height="51.6" fill="#bdbdbd" filter="url(#bl6)"/>
<rect x="294.2" y="531.4" width="253.8" height="32.7" fill="#dbdbdb" filter="url(#bl5)"/>
<g filter="url(#bl2)"><rect x="280" y="521.1" width="4" height="54.8" fill="#f1f1f1"/><rect x="284" y="525" width="8" height="44.1" fill="#fbfbfb"/><rect x="292" y="525.5" width="12" height="42.3" fill="#f4f4f4"/><rect x="304" y="528.9" width="4" height="34.6" fill="#ffffff"/><rect x="312" y="525.9" width="12" height="42" fill="#e1e1e1"/><rect x="324" y="523.6" width="12" height="50.3" fill="#f8f8f8"/><rect x="344" y="528.6" width="4" height="45.1" fill="#fafafa"/><rect x="348" y="530.1" width="8" height="45" fill="#f1f1f1"/><rect x="356" y="520.6" width="12" height="54.9" fill="#ececec"/><rect x="368" y="528" width="4" height="42.8" fill="#fefefe"/><rect x="372" y="523.6" width="8" height="39.7" fill="#f0f0f0"/><rect x="380" y="530.8" width="8" height="44.4" fill="#f9f9f9"/><rect x="388" y="528.4" width="12" height="38.8" fill="#dddddd"/><rect x="400" y="518.4" width="8" height="50.2" fill="#fafafa"/><rect x="408" y="523.2" width="4" height="51.4" fill="#fbfbfb"/><rect x="412" y="525.5" width="4" height="40.4" fill="#f7f7f7"/><rect x="424" y="523.7" width="8" height="42.1" fill="#f5f5f5"/><rect x="432" y="524.2" width="4" height="40.9" fill="#e7e7e7"/><rect x="436" y="520.3" width="12" height="46.7" fill="#fcfcfc"/><rect x="460" y="519" width="12" height="50.7" fill="#ececec"/><rect x="472" y="523.6" width="4" height="45.3" fill="#f3f3f3"/><rect x="484" y="530.6" width="12" height="42.5" fill="#f9f9f9"/><rect x="496" y="522.1" width="8" height="46.3" fill="#f4f4f4"/><rect x="504" y="523.9" width="12" height="45.9" fill="#e9e9e9"/><rect x="516" y="518.1" width="8" height="46.8" fill="#f3f3f3"/><rect x="524" y="523" width="4" height="47.4" fill="#e6e6e6"/><rect x="528" y="522.1" width="4" height="52.9" fill="#d7d7d7"/><rect x="532" y="524.2" width="4" height="45.8" fill="#dbdbdb"/><rect x="536" y="521.5" width="8" height="51.1" fill="#fafafa"/><rect x="544" y="526.5" width="8" height="42.2" fill="#d2d2d2"/><rect x="552" y="529.3" width="8" height="45.9" fill="#fcfcfc"/></g>
<rect x="321.4" y="689.2" width="240.2" height="68.9" fill="#bdbdbd" filter="url(#bl6)"/>
<rect x="344" y="701.4" width="172.3" height="46.7" fill="#ebebeb" filter="url(#bl5)"/>
<g filter="url(#bl2)"><rect x="338" y="690.3" width="12" height="58.7" fill="#fcfcfc"/><rect x="350" y="690.9" width="4" height="60.3" fill="#ffffff"/><rect x="354" y="692.8" width="4" height="62.1" fill="#dcdcdc"/><rect x="358" y="688.3" width="4" height="64.2" fill="#e8e8e8"/><rect x="362" y="697.9" width="8" height="63.6" fill="#fcfcfc"/><rect x="370" y="697.7" width="4" height="58.7" fill="#f7f7f7"/><rect x="374" y="695.1" width="4" height="57.5" fill="#f7f7f7"/><rect x="378" y="696.7" width="4" height="61.4" fill="#f8f8f8"/><rect x="382" y="687.9" width="8" height="71" fill="#e9e9e9"/><rect x="390" y="686.8" width="8" height="64.4" fill="#e8e8e8"/><rect x="398" y="687.9" width="4" height="68.9" fill="#eaeaea"/><rect x="402" y="696.2" width="4" height="54.5" fill="#f9f9f9"/><rect x="406" y="698.7" width="4" height="61.6" fill="#f1f1f1"/><rect x="410" y="694.7" width="4" height="67.2" fill="#fbfbfb"/><rect x="414" y="686.1" width="8" height="72.1" fill="#f7f7f7"/><rect x="426" y="686" width="8" height="63.2" fill="#efefef"/><rect x="434" y="695.6" width="8" height="58.4" fill="#e5e5e5"/><rect x="454" y="692.9" width="4" height="67.1" fill="#e1e1e1"/><rect x="458" y="688.6" width="4" height="69.4" fill="#f9f9f9"/><rect x="462" y="686.2" width="4" height="73.6" fill="#fbfbfb"/><rect x="466" y="694.8" width="4" height="65" fill="#e4e4e4"/><rect x="470" y="697.6" width="4" height="55.2" fill="#ededed"/><rect x="474" y="692" width="4" height="68.4" fill="#ebebeb"/><rect x="478" y="698.5" width="4" height="53.9" fill="#e8e8e8"/><rect x="482" y="694.3" width="8" height="62.6" fill="#f4f4f4"/><rect x="490" y="694.4" width="8" height="61.5" fill="#ececec"/><rect x="498" y="698.9" width="12" height="50.7" fill="#f1f1f1"/><rect x="510" y="698.2" width="10" height="54.5" fill="#fdfdfd"/></g>
<g filter="url(#bl2)"><rect x="520" y="698.4" width="8" height="53" fill="#bdbdbd"/><rect x="528" y="701.3" width="8" height="54.9" fill="#d3d3d3"/><rect x="536" y="696.4" width="4" height="50.5" fill="#dbdbdb"/><rect x="548" y="694.9" width="4" height="52" fill="#c8c8c8"/><rect x="552" y="698.5" width="8" height="51.8" fill="#d7d7d7"/></g>
<ellipse cx="410.7" cy="225.9" rx="68" ry="43.1" fill="#9e9e9e" filter="url(#bl10)"/>
<ellipse cx="410.7" cy="225.9" rx="39.9" ry="42.6" fill="#cccccc" filter="url(#bl8)"/>
<polygon points="410.6,183 442.6,226 410.6,269 378.6,226" fill="#ffffff" filter="url(#bl3)"/>
<ellipse cx="410.7" cy="225.9" rx="20.8" ry="29" fill="#ffffff" filter="url(#bl3)"/>
<polygon points="405.5,0 415.5,0 417,440 408,440" fill="#ffffff"/>
<polygon points="409,440 416,440 418,964 413,964" fill="#cccccc"/>
<ellipse cx="668.1" cy="119.4" rx="3.6" ry="13.6" fill="#dbdbdb" filter="url(#bl3)"/>
<ellipse cx="668.1" cy="171.5" rx="4.5" ry="11.3" fill="#d1d1d1" filter="url(#bl3)"/>
<ellipse cx="579.7" cy="124" rx="2.3" ry="18.1" fill="#999999" filter="url(#bl3)"/>
<rect x="149.2" y="259.9" width="9.9" height="104.3" fill="#a8a8a8" filter="url(#bl4)"/>
</g></g>
<line x1="413.5" y1="452" x2="417" y2="962" stroke="#e4e23a" stroke-width="4" stroke-dasharray="14 2" opacity="0.92"/>
<rect x="0" y="0" width="888" height="964" fill="none" stroke="#0c0a50" stroke-width="3"/>
<line x1="0" y1="107.1" x2="13" y2="107.1" stroke="#0a0830" stroke-width="2.5"/>
<line x1="0" y1="214.2" x2="13" y2="214.2" stroke="#0a0830" stroke-width="2.5"/>
<line x1="0" y1="321.3" x2="13" y2="321.3" stroke="#0a0830" stroke-width="2.5"/>
<line x1="0" y1="428.4" x2="13" y2="428.4" stroke="#0a0830" stroke-width="2.5"/>
<line x1="0" y1="535.5" x2="13" y2="535.5" stroke="#0a0830" stroke-width="2.5"/>
<line x1="0" y1="642.6" x2="13" y2="642.6" stroke="#0a0830" stroke-width="2.5"/>
<line x1="0" y1="749.7" x2="13" y2="749.7" stroke="#0a0830" stroke-width="2.5"/>
<line x1="0" y1="856.8" x2="13" y2="856.8" stroke="#0a0830" stroke-width="2.5"/>
<line x1="99.3" y1="964" x2="99.3" y2="951" stroke="#0a0830" stroke-width="2.5"/>
<line x1="296.4" y1="964" x2="296.4" y2="951" stroke="#0a0830" stroke-width="2.5"/>
<line x1="493.5" y1="964" x2="493.5" y2="951" stroke="#0a0830" stroke-width="2.5"/>
<line x1="690.6" y1="964" x2="690.6" y2="951" stroke="#0a0830" stroke-width="2.5"/>
</g>
<text x="1997.5" y="47" style="font-size:55px" textLength="99" lengthAdjust="spacingAndGlyphs">23.2</text>
<text x="1997.5" y="154.1" style="font-size:55px" textLength="99" lengthAdjust="spacingAndGlyphs">23.1</text>
<text x="1997.5" y="261.2" style="font-size:55px" textLength="99" lengthAdjust="spacingAndGlyphs">23.0</text>
<text x="1997.5" y="368.3" style="font-size:55px" textLength="99" lengthAdjust="spacingAndGlyphs">22.9</text>
<text x="1997.5" y="475.4" style="font-size:55px" textLength="99" lengthAdjust="spacingAndGlyphs">22.8</text>
<text x="1997.5" y="582.5" style="font-size:55px" textLength="99" lengthAdjust="spacingAndGlyphs">22.7</text>
<text x="1997.5" y="689.6" style="font-size:55px" textLength="99" lengthAdjust="spacingAndGlyphs">22.6</text>
<text x="1997.5" y="796.7" style="font-size:55px" textLength="99" lengthAdjust="spacingAndGlyphs">22.5</text>
<text x="1997.5" y="903.8" style="font-size:55px" textLength="99" lengthAdjust="spacingAndGlyphs">22.4</text>
<text x="1997.5" y="1010.9" style="font-size:55px" textLength="99" lengthAdjust="spacingAndGlyphs">22.3</text>
<text x="2185" y="1079" style="font-size:55px" textLength="97" lengthAdjust="spacingAndGlyphs">0.20</text>
<text x="2382" y="1079" style="font-size:55px" textLength="96" lengthAdjust="spacingAndGlyphs">0.10</text>
<text x="2614" y="1079" style="font-size:55px" textLength="25" lengthAdjust="spacingAndGlyphs">0</text>
<text x="2760" y="1079" style="font-size:55px" textLength="125" lengthAdjust="spacingAndGlyphs">−0.10</text>
<text x="2958" y="1079" style="font-size:55px" textLength="124" lengthAdjust="spacingAndGlyphs">−0.20</text>
<text y="1166" x="2441 2500 2558" style="font-size:51px;font-family:'Noto Serif CJK SC',serif">方位向</text>
<text x="2626" y="1166" style="font-size:56px" textLength="87" lengthAdjust="spacingAndGlyphs">(m)</text>
<g transform="translate(1937,649) rotate(-90)"><text y="0" x="0 56.5 111" style="font-size:51px;font-family:'Noto Serif CJK SC',serif">距离向</text>
<text x="184" y="0" style="font-size:56px" textLength="87" lengthAdjust="spacingAndGlyphs">(m)</text></g>
<text x="128" y="1334" style="font-size:56px" textLength="503" lengthAdjust="spacingAndGlyphs">(a) The target “yue”</text>
<text x="819" y="1334" style="font-size:56px" textLength="869" lengthAdjust="spacingAndGlyphs">(b) Imaging results of four channels</text>
<text x="2228" y="1334" style="font-size:56px" textLength="700" lengthAdjust="spacingAndGlyphs">(c) The whole imaging result</text>
<text x="113" y="1268" style="font-size:56px" textLength="68" lengthAdjust="spacingAndGlyphs">(a)</text>
<text y="1268" x="202 259.5 310 374 429.5 481.5 537.5 593" style="font-size:54px;font-family:'Noto Serif CJK SC',serif">汉字“月”实物图</text>
<text x="943" y="1268" style="font-size:56px" textLength="68" lengthAdjust="spacingAndGlyphs">(b)</text>
<text x="1033" y="1268" style="font-size:56px">4</text>
<text y="1268" x="1065.0 1117.5 1173.2 1228.9 1284.6 1340.3 1396.0 1451.7 1507.4" style="font-size:51px;font-family:'Noto Serif CJK SC',serif">个通道分别成像结果</text>
<text x="2314" y="1268" style="font-size:56px" textLength="61" lengthAdjust="spacingAndGlyphs">(c)</text>
<text y="1268" x="2400.0 2455.6 2511.2 2566.8 2622.4 2678.0 2733.6 2789.2" style="font-size:51px;font-family:'Noto Serif CJK SC',serif">拼接后的整个图像</text>
</svg></body></html>
